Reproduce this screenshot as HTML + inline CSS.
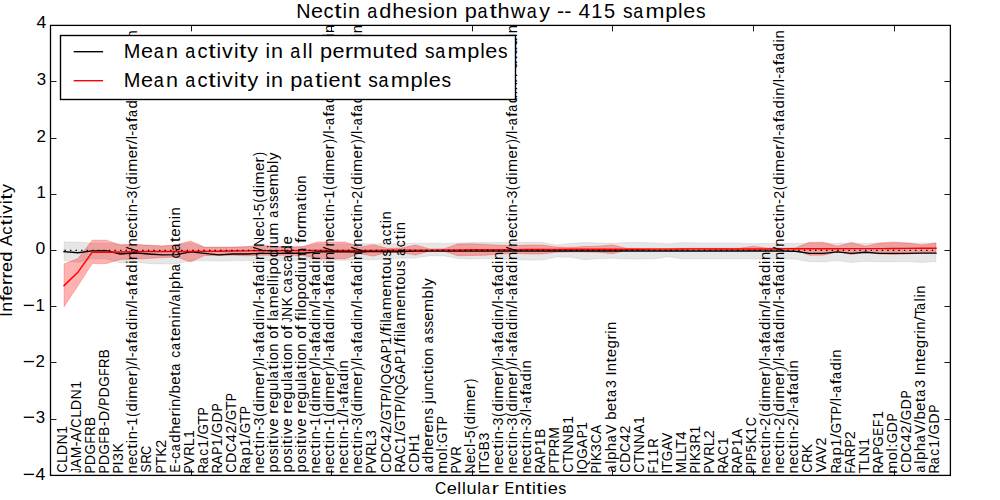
<!DOCTYPE html>
<html><head><meta charset="utf-8"><title>Nectin adhesion pathway</title><style>
html,body{margin:0;padding:0;background:#fff;width:1000px;height:500px;overflow:hidden}
svg{display:block}
text{font-family:"Liberation Sans",sans-serif;fill:#000}
</style></head><body>
<svg width="1000" height="500" viewBox="0 0 1000 500">
<defs><clipPath id="ax"><rect x="50" y="25" width="900" height="450"/></clipPath></defs>
<rect x="0" y="0" width="1000" height="500" fill="#fff"/>
<g clip-path="url(#ax)">
<polygon points="64.06,242 78.12,242 92.19,243.2 106.25,243.2 120.31,244 134.38,244.5 148.44,245 162.5,246 176.56,245 190.62,243 204.69,247.5 218.75,247.5 232.81,247.5 246.88,247 260.94,244.2 275,246.5 289.06,247 303.12,246.5 317.19,244 331.25,244 345.31,244 359.38,243.8 373.44,243.8 387.5,244 401.56,243.8 415.62,243.2 429.69,243.2 443.75,243.4 457.81,242.9 471.88,242.6 485.94,242.6 500,242.6 514.06,242.5 528.12,242.3 542.19,242.3 556.25,245 570.31,243.5 584.38,242.6 598.44,242.9 612.5,243.2 626.56,242.6 640.62,242.6 654.69,242.9 668.75,243.8 682.81,242.6 696.88,242.9 710.94,242.9 725,242.9 739.06,242.9 753.12,243.8 767.19,243.4 781.25,243.4 795.31,243.4 809.38,243.2 823.44,243.2 837.5,243.2 851.56,243.2 865.62,243.2 879.69,243.2 893.75,243.2 907.81,243 921.88,242.9 935.94,243 935.94,261.5 921.88,262.4 907.81,261.5 893.75,261.8 879.69,261.8 865.62,261.2 851.56,262.4 837.5,260.6 823.44,261.8 809.38,261.8 795.31,259.1 781.25,259.1 767.19,259.1 753.12,259.1 739.06,258.8 725,258.8 710.94,258.8 696.88,258.8 682.81,259.1 668.75,256.7 654.69,258.8 640.62,259.1 626.56,259.1 612.5,258.2 598.44,258.8 584.38,259.7 570.31,257.3 556.25,257 542.19,260 528.12,260 514.06,259.7 500,259 485.94,258.5 471.88,259.1 457.81,258.5 443.75,255.8 429.69,255.8 415.62,258 401.56,258.3 387.5,258.8 373.44,259.7 359.38,259.8 345.31,260.3 331.25,260.3 317.19,260.3 303.12,260.3 289.06,260.6 275,260.6 260.94,260.6 246.88,260.6 232.81,260.6 218.75,261 204.69,260.6 190.62,261 176.56,263.5 162.5,264 148.44,263.5 134.38,262 120.31,263 106.25,258.8 92.19,258.8 78.12,262.4 64.06,260.6" fill="#808080" fill-opacity="0.2" stroke="#808080" stroke-opacity="0.2" stroke-width="0.8"/>
<polygon points="64.06,263.9 78.12,258.5 92.19,240.2 106.25,240.2 120.31,245 134.38,244.5 148.44,245.3 162.5,245.9 176.56,244.7 190.62,241.1 204.69,247.1 218.75,247.1 232.81,247.1 246.88,246.6 260.94,245.9 275,246.5 289.06,247.1 303.12,246.5 317.19,242 331.25,242 345.31,242 359.38,247.2 373.44,244.7 387.5,248.3 401.56,248 415.62,245 429.69,248.9 443.75,248.9 457.81,244.1 471.88,243.8 485.94,244.4 500,245.3 514.06,245.6 528.12,245 542.19,245 556.25,247.1 570.31,247.4 584.38,246.5 598.44,246.2 612.5,244.9 626.56,248.3 640.62,248.5 654.69,248.5 668.75,248.5 682.81,248.4 696.88,248.3 710.94,248.3 725,248.3 739.06,248.3 753.12,246.2 767.19,248 781.25,248.1 795.31,248 809.38,242.3 823.44,242.3 837.5,246.2 851.56,242.4 865.62,246.2 879.69,242.9 893.75,242 907.81,242.9 921.88,245 935.94,242.9 935.94,252.8 921.88,252.8 907.81,254 893.75,254.6 879.69,254 865.62,252.2 851.56,254.6 837.5,251.9 823.44,255.2 809.38,255.2 795.31,249.8 781.25,249.6 767.19,249.7 753.12,250.5 739.06,249.6 725,249.6 710.94,249.6 696.88,249.6 682.81,249.8 668.75,249.9 654.69,249.9 640.62,250 626.56,250.2 612.5,253.7 598.44,252.2 584.38,251.9 570.31,251.9 556.25,252.2 542.19,254 528.12,254 514.06,253.4 500,254 485.94,255.2 471.88,255.5 457.81,255.8 443.75,251 429.69,251 415.62,255 401.56,252.8 387.5,252.2 373.44,256.1 359.38,253.6 345.31,258.8 331.25,258.8 317.19,258.8 303.12,255.5 289.06,255.2 275,255.2 260.94,255.2 246.88,255.8 232.81,255.2 218.75,255.5 204.69,255.5 190.62,261.8 176.56,257 162.5,257.6 148.44,258.5 134.38,259.1 120.31,259.4 106.25,263.6 92.19,263.6 78.12,285.5 64.06,306.8" fill="#ff0000" fill-opacity="0.3" stroke="#ff0000" stroke-opacity="0.3" stroke-width="0.8"/>
<polyline points="64.06,251.6 78.12,252.8 92.19,250.9 106.25,250.6 120.31,254 134.38,252.8 148.44,254 162.5,254.9 176.56,254.6 190.62,251.9 204.69,253.4 218.75,254.9 232.81,254 246.88,254 260.94,253.4 275,253.4 289.06,253.3 303.12,253.2 317.19,251.9 331.25,251.6 345.31,251.8 359.38,252 373.44,251.3 387.5,251.9 401.56,251.6 415.62,251 429.69,251 443.75,251 457.81,251 471.88,251 485.94,251 500,251 514.06,251 528.12,251 542.19,251 556.25,251 570.31,251 584.38,251 598.44,251 612.5,251 626.56,251 640.62,251 654.69,251 668.75,251 682.81,251 696.88,251 710.94,251 725,251 739.06,251 753.12,251 767.19,251 781.25,251 795.31,251.3 809.38,253.4 823.44,253.4 837.5,251.9 851.56,253.4 865.62,252.2 879.69,253.4 893.75,253.4 907.81,253.4 921.88,253.1 935.94,253.1" fill="none" stroke="#000" stroke-width="1.39" stroke-linejoin="round" stroke-linecap="square"/>
<polyline points="64.06,285.6 78.12,271.9 92.19,252.2 106.25,252.2 120.31,252 134.38,251.7 148.44,251.5 162.5,251.5 176.56,251.5 190.62,251.5 204.69,251.4 218.75,251.2 232.81,251 246.88,250.9 260.94,250.8 275,250.7 289.06,250.6 303.12,250.5 317.19,250.4 331.25,250.4 345.31,250.4 359.38,250.4 373.44,250.4 387.5,250.3 401.56,250.2 415.62,250.1 429.69,250.1 443.75,250 457.81,250 471.88,249.8 485.94,249.7 500,249.7 514.06,249.6 528.12,249.5 542.19,249.5 556.25,249.4 570.31,249.3 584.38,249.2 598.44,249.2 612.5,249.2 626.56,249.2 640.62,249.2 654.69,249.1 668.75,249.1 682.81,249 696.88,248.9 710.94,248.9 725,248.9 739.06,248.9 753.12,248.9 767.19,248.9 781.25,248.8 795.31,248.8 809.38,248.7 823.44,248.7 837.5,248.7 851.56,248.6 865.62,248.6 879.69,248.6 893.75,248.5 907.81,248.4 921.88,248.3 935.94,248.3" fill="none" stroke="#ff0000" stroke-width="1.45" stroke-linejoin="round" stroke-linecap="square"/>
<line x1="64.06" y1="250.45" x2="935.94" y2="250.45" stroke="#000" stroke-width="1.3" stroke-dasharray="1.39 4.17" stroke-dashoffset="-0.35"/>
<g transform="translate(67.06,472.06) rotate(-90)" font-size="14.4"><text transform="matrix(0.895 0 0 1 -0.65 0)">C</text><text transform="matrix(0.992 0 0 1 9.16 0)">L</text><text transform="matrix(0.998 0 0 1 16.9 0)">D</text><text transform="matrix(0.953 0 0 1 27.71 0)">N</text><text transform="matrix(0.971 0 0 1 38.31 0)">1</text></g>
<g transform="translate(81.12,472.53) rotate(-90)" font-size="14.4"><text transform="matrix(0.600 0 0 1 -0.18 0)">J</text><text transform="matrix(0.972 0 0 1 4.55 0)">A</text><text transform="matrix(0.962 0 0 1 14.2 0)">M</text><text transform="matrix(1.040 0 0 1 25.98 0)">-</text><text transform="matrix(0.972 0 0 1 30.68 0)">A</text><text transform="matrix(1.170 0 0 1 40.09 0)">/</text><text transform="matrix(0.895 0 0 1 44.84 0)">C</text><text transform="matrix(0.992 0 0 1 54.66 0)">L</text><text transform="matrix(0.998 0 0 1 62.4 0)">D</text><text transform="matrix(0.953 0 0 1 73.21 0)">N</text><text transform="matrix(0.971 0 0 1 83.8 0)">1</text></g>
<g transform="translate(95.19,472.47) rotate(-90)" font-size="14.4"><text transform="matrix(0.853 0 0 1 -1.01 0)">P</text><text transform="matrix(0.998 0 0 1 7.2 0)">D</text><text transform="matrix(0.941 0 0 1 17.86 0)">G</text><text transform="matrix(0.827 0 0 1 28.9 0)">F</text><text transform="matrix(0.922 0 0 1 36.79 0)">R</text><text transform="matrix(0.937 0 0 1 46.39 0)">B</text></g>
<g transform="translate(109.25,472.47) rotate(-90)" font-size="14.4"><text transform="matrix(0.853 0 0 1 -1.01 0)">P</text><text transform="matrix(0.998 0 0 1 7.2 0)">D</text><text transform="matrix(0.941 0 0 1 17.86 0)">G</text><text transform="matrix(0.827 0 0 1 28.9 0)">F</text><text transform="matrix(0.937 0 0 1 36.77 0)">B</text><text transform="matrix(1.040 0 0 1 46.15 0)">-</text><text transform="matrix(0.998 0 0 1 51.2 0)">D</text><text transform="matrix(1.170 0 0 1 61.76 0)">/</text><text transform="matrix(0.853 0 0 1 66.74 0)">P</text><text transform="matrix(0.998 0 0 1 74.95 0)">D</text><text transform="matrix(0.941 0 0 1 85.61 0)">G</text><text transform="matrix(0.827 0 0 1 96.65 0)">F</text><text transform="matrix(0.922 0 0 1 104.54 0)">R</text><text transform="matrix(0.937 0 0 1 114.14 0)">B</text></g>
<g transform="translate(123.31,472.47) rotate(-90)" font-size="14.4"><text transform="matrix(0.853 0 0 1 -1.01 0)">P</text><text transform="matrix(1.020 0 0 1 7.02 0)">I</text><text transform="matrix(0.976 0 0 1 11.53 0)">3</text><text transform="matrix(0.973 0 0 1 19.98 0)">K</text></g>
<g transform="translate(137.38,472.6) rotate(-90)" font-size="14.4"><text transform="matrix(1.040 0 0 1 -0.99 0)">n</text><text transform="matrix(1.042 0 0 1 7.62 0)">e</text><text transform="matrix(0.968 0 0 1 16.16 0)">c</text><text transform="matrix(1.289 0 0 1 23.71 0)">t</text><text transform="matrix(0.986 0 0 1 29.47 0)">i</text><text transform="matrix(1.040 0 0 1 33.26 0)">n</text><text transform="matrix(1.040 0 0 1 41.75 0)">-</text><text transform="matrix(0.971 0 0 1 47.07 0)">1</text><text transform="matrix(0.815 0 0 1 55.95 0)">(</text><text transform="matrix(1.048 0 0 1 61.12 0)">d</text><text transform="matrix(0.986 0 0 1 70.22 0)">i</text><text transform="matrix(1.099 0 0 1 73.95 0)">m</text><text transform="matrix(1.042 0 0 1 87.37 0)">e</text><text transform="matrix(1.236 0 0 1 95.82 0)">r</text><text transform="matrix(0.815 0 0 1 102.53 0)">)</text><text transform="matrix(1.170 0 0 1 106.86 0)">/</text><text transform="matrix(0.986 0 0 1 111.84 0)">l</text><text transform="matrix(1.040 0 0 1 115.38 0)">-</text><text transform="matrix(0.867 0 0 1 120.54 0)">a</text><text transform="matrix(1.266 0 0 1 128.92 0)">f</text><text transform="matrix(0.867 0 0 1 134.17 0)">a</text><text transform="matrix(1.048 0 0 1 142.62 0)">d</text><text transform="matrix(0.986 0 0 1 151.72 0)">i</text><text transform="matrix(1.040 0 0 1 155.51 0)">n</text><text transform="matrix(1.170 0 0 1 163.99 0)">/</text><text transform="matrix(0.986 0 0 1 168.97 0)">l</text><text transform="matrix(1.040 0 0 1 172.5 0)">-</text><text transform="matrix(0.867 0 0 1 177.67 0)">a</text><text transform="matrix(1.266 0 0 1 186.05 0)">f</text><text transform="matrix(0.867 0 0 1 191.29 0)">a</text><text transform="matrix(1.048 0 0 1 199.75 0)">d</text><text transform="matrix(0.986 0 0 1 208.85 0)">i</text><text transform="matrix(1.040 0 0 1 212.63 0)">n</text><text transform="matrix(1.170 0 0 1 221.11 0)">/</text><text transform="matrix(1.040 0 0 1 226.01 0)">n</text><text transform="matrix(1.042 0 0 1 234.62 0)">e</text><text transform="matrix(0.968 0 0 1 243.16 0)">c</text><text transform="matrix(1.289 0 0 1 250.71 0)">t</text><text transform="matrix(0.986 0 0 1 256.47 0)">i</text><text transform="matrix(1.040 0 0 1 260.26 0)">n</text><text transform="matrix(1.040 0 0 1 268.75 0)">-</text><text transform="matrix(0.976 0 0 1 274.14 0)">3</text><text transform="matrix(0.815 0 0 1 282.83 0)">(</text><text transform="matrix(1.048 0 0 1 288 0)">d</text><text transform="matrix(0.986 0 0 1 297.1 0)">i</text><text transform="matrix(1.099 0 0 1 300.82 0)">m</text><text transform="matrix(1.042 0 0 1 314.24 0)">e</text><text transform="matrix(1.236 0 0 1 322.69 0)">r</text><text transform="matrix(1.170 0 0 1 328.36 0)">/</text><text transform="matrix(0.986 0 0 1 333.34 0)">l</text><text transform="matrix(1.040 0 0 1 336.88 0)">-</text><text transform="matrix(0.867 0 0 1 342.04 0)">a</text><text transform="matrix(1.266 0 0 1 350.42 0)">f</text><text transform="matrix(0.867 0 0 1 355.67 0)">a</text><text transform="matrix(1.048 0 0 1 364.12 0)">d</text><text transform="matrix(0.986 0 0 1 373.22 0)">i</text><text transform="matrix(1.040 0 0 1 377.01 0)">n</text><text transform="matrix(1.170 0 0 1 385.49 0)">/</text><text transform="matrix(0.986 0 0 1 390.47 0)">l</text><text transform="matrix(1.040 0 0 1 394 0)">-</text><text transform="matrix(0.867 0 0 1 399.17 0)">a</text><text transform="matrix(1.266 0 0 1 407.55 0)">f</text><text transform="matrix(0.867 0 0 1 412.79 0)">a</text><text transform="matrix(1.048 0 0 1 421.25 0)">d</text><text transform="matrix(0.986 0 0 1 430.35 0)">i</text><text transform="matrix(1.040 0 0 1 434.13 0)">n</text></g>
<g transform="translate(151.44,471.92) rotate(-90)" font-size="14.4"><text transform="matrix(0.860 0 0 1 -0.56 0)">S</text><text transform="matrix(0.922 0 0 1 8.11 0)">R</text><text transform="matrix(0.895 0 0 1 16.83 0)">C</text></g>
<g transform="translate(165.5,472.47) rotate(-90)" font-size="14.4"><text transform="matrix(0.853 0 0 1 -1.01 0)">P</text><text transform="matrix(1.052 0 0 1 6.63 0)">T</text><text transform="matrix(0.973 0 0 1 15.73 0)">K</text><text transform="matrix(0.980 0 0 1 24.82 0)">2</text></g>
<g transform="translate(179.56,471.47) rotate(-90)" font-size="14.4"><text transform="matrix(0.836 0 0 1 -0.99 0)">E</text><text transform="matrix(1.040 0 0 1 7.4 0)">-</text><text transform="matrix(0.968 0 0 1 12.44 0)">c</text><text transform="matrix(0.867 0 0 1 20.19 0)">a</text><text transform="matrix(1.048 0 0 1 28.64 0)">d</text><text transform="matrix(1.047 0 0 1 37.6 0)">h</text><text transform="matrix(1.042 0 0 1 46.27 0)">e</text><text transform="matrix(1.236 0 0 1 54.72 0)">r</text><text transform="matrix(0.986 0 0 1 60.75 0)">i</text><text transform="matrix(1.040 0 0 1 64.53 0)">n</text><text transform="matrix(1.170 0 0 1 73.01 0)">/</text><text transform="matrix(1.049 0 0 1 77.92 0)">b</text><text transform="matrix(1.042 0 0 1 86.64 0)">e</text><text transform="matrix(1.289 0 0 1 95.1 0)">t</text><text transform="matrix(0.867 0 0 1 100.82 0)">a</text><text transform="matrix(0.968 0 0 1 113.69 0)">c</text><text transform="matrix(0.867 0 0 1 121.44 0)">a</text><text transform="matrix(1.289 0 0 1 129.85 0)">t</text><text transform="matrix(1.042 0 0 1 135.39 0)">e</text><text transform="matrix(1.040 0 0 1 144.03 0)">n</text><text transform="matrix(0.986 0 0 1 152.87 0)">i</text><text transform="matrix(1.040 0 0 1 156.65 0)">n</text><text transform="matrix(1.170 0 0 1 165.14 0)">/</text><text transform="matrix(0.867 0 0 1 170.07 0)">a</text><text transform="matrix(0.986 0 0 1 178.74 0)">l</text><text transform="matrix(1.049 0 0 1 182.55 0)">p</text><text transform="matrix(1.047 0 0 1 191.35 0)">h</text><text transform="matrix(0.867 0 0 1 200.19 0)">a</text><text transform="matrix(0.968 0 0 1 213.06 0)">c</text><text transform="matrix(0.867 0 0 1 220.82 0)">a</text><text transform="matrix(1.289 0 0 1 229.23 0)">t</text><text transform="matrix(1.042 0 0 1 234.77 0)">e</text><text transform="matrix(1.040 0 0 1 243.4 0)">n</text><text transform="matrix(0.986 0 0 1 252.25 0)">i</text><text transform="matrix(1.040 0 0 1 256.03 0)">n</text></g>
<g transform="translate(193.62,472.47) rotate(-90)" font-size="14.4"><text transform="matrix(0.853 0 0 1 -1.01 0)">P</text><text transform="matrix(0.979 0 0 1 7.06 0)">V</text><text transform="matrix(0.922 0 0 1 16.79 0)">R</text><text transform="matrix(0.992 0 0 1 26.33 0)">L</text><text transform="matrix(0.971 0 0 1 34.35 0)">1</text></g>
<g transform="translate(207.69,472.47) rotate(-90)" font-size="14.4"><text transform="matrix(0.922 0 0 1 -1.09 0)">R</text><text transform="matrix(0.867 0 0 1 8.32 0)">a</text><text transform="matrix(0.968 0 0 1 16.81 0)">c</text><text transform="matrix(0.971 0 0 1 24.72 0)">1</text><text transform="matrix(1.170 0 0 1 33.14 0)">/</text><text transform="matrix(0.941 0 0 1 37.86 0)">G</text><text transform="matrix(1.052 0 0 1 47.63 0)">T</text><text transform="matrix(0.853 0 0 1 56.87 0)">P</text></g>
<g transform="translate(221.75,472.47) rotate(-90)" font-size="14.4"><text transform="matrix(0.922 0 0 1 -1.09 0)">R</text><text transform="matrix(0.972 0 0 1 7.84 0)">A</text><text transform="matrix(0.853 0 0 1 17.62 0)">P</text><text transform="matrix(0.971 0 0 1 26.1 0)">1</text><text transform="matrix(1.170 0 0 1 34.51 0)">/</text><text transform="matrix(0.941 0 0 1 39.24 0)">G</text><text transform="matrix(0.998 0 0 1 50.07 0)">D</text><text transform="matrix(0.853 0 0 1 60.99 0)">P</text></g>
<g transform="translate(235.81,472.06) rotate(-90)" font-size="14.4"><text transform="matrix(0.895 0 0 1 -0.65 0)">C</text><text transform="matrix(0.998 0 0 1 9.15 0)">D</text><text transform="matrix(0.895 0 0 1 19.85 0)">C</text><text transform="matrix(1.017 0 0 1 29.81 0)">4</text><text transform="matrix(0.980 0 0 1 38.53 0)">2</text><text transform="matrix(1.170 0 0 1 46.97 0)">/</text><text transform="matrix(0.941 0 0 1 51.69 0)">G</text><text transform="matrix(1.052 0 0 1 61.46 0)">T</text><text transform="matrix(0.853 0 0 1 70.7 0)">P</text></g>
<g transform="translate(249.88,472.47) rotate(-90)" font-size="14.4"><text transform="matrix(0.922 0 0 1 -1.09 0)">R</text><text transform="matrix(0.867 0 0 1 8.32 0)">a</text><text transform="matrix(1.049 0 0 1 16.92 0)">p</text><text transform="matrix(0.971 0 0 1 25.97 0)">1</text><text transform="matrix(1.170 0 0 1 34.39 0)">/</text><text transform="matrix(0.941 0 0 1 39.11 0)">G</text><text transform="matrix(1.052 0 0 1 48.88 0)">T</text><text transform="matrix(0.853 0 0 1 58.12 0)">P</text></g>
<g transform="translate(263.94,472.6) rotate(-90)" font-size="14.4"><text transform="matrix(1.040 0 0 1 -0.99 0)">n</text><text transform="matrix(1.042 0 0 1 7.62 0)">e</text><text transform="matrix(0.968 0 0 1 16.16 0)">c</text><text transform="matrix(1.289 0 0 1 23.71 0)">t</text><text transform="matrix(0.986 0 0 1 29.47 0)">i</text><text transform="matrix(1.040 0 0 1 33.26 0)">n</text><text transform="matrix(1.040 0 0 1 41.75 0)">-</text><text transform="matrix(0.976 0 0 1 47.14 0)">3</text><text transform="matrix(0.815 0 0 1 55.83 0)">(</text><text transform="matrix(1.048 0 0 1 61 0)">d</text><text transform="matrix(0.986 0 0 1 70.1 0)">i</text><text transform="matrix(1.099 0 0 1 73.82 0)">m</text><text transform="matrix(1.042 0 0 1 87.24 0)">e</text><text transform="matrix(1.236 0 0 1 95.69 0)">r</text><text transform="matrix(0.815 0 0 1 102.41 0)">)</text><text transform="matrix(1.170 0 0 1 106.74 0)">/</text><text transform="matrix(0.986 0 0 1 111.72 0)">l</text><text transform="matrix(1.040 0 0 1 115.25 0)">-</text><text transform="matrix(0.867 0 0 1 120.42 0)">a</text><text transform="matrix(1.266 0 0 1 128.8 0)">f</text><text transform="matrix(0.867 0 0 1 134.04 0)">a</text><text transform="matrix(1.048 0 0 1 142.5 0)">d</text><text transform="matrix(0.986 0 0 1 151.6 0)">i</text><text transform="matrix(1.040 0 0 1 155.38 0)">n</text><text transform="matrix(1.170 0 0 1 163.86 0)">/</text><text transform="matrix(0.986 0 0 1 168.84 0)">l</text><text transform="matrix(1.040 0 0 1 172.38 0)">-</text><text transform="matrix(0.867 0 0 1 177.54 0)">a</text><text transform="matrix(1.266 0 0 1 185.92 0)">f</text><text transform="matrix(0.867 0 0 1 191.17 0)">a</text><text transform="matrix(1.048 0 0 1 199.62 0)">d</text><text transform="matrix(0.986 0 0 1 208.72 0)">i</text><text transform="matrix(1.040 0 0 1 212.51 0)">n</text><text transform="matrix(1.170 0 0 1 220.99 0)">/</text><text transform="matrix(0.953 0 0 1 225.85 0)">N</text><text transform="matrix(1.042 0 0 1 236.12 0)">e</text><text transform="matrix(0.968 0 0 1 244.66 0)">c</text><text transform="matrix(0.986 0 0 1 252.47 0)">l</text><text transform="matrix(1.040 0 0 1 256 0)">-</text><text transform="matrix(0.960 0 0 1 261.38 0)">5</text><text transform="matrix(0.815 0 0 1 270.08 0)">(</text><text transform="matrix(1.048 0 0 1 275.25 0)">d</text><text transform="matrix(0.986 0 0 1 284.35 0)">i</text><text transform="matrix(1.099 0 0 1 288.07 0)">m</text><text transform="matrix(1.042 0 0 1 301.49 0)">e</text><text transform="matrix(1.236 0 0 1 309.94 0)">r</text><text transform="matrix(0.815 0 0 1 316.66 0)">)</text></g>
<g transform="translate(278,471.6) rotate(-90)" font-size="14.4"><text transform="matrix(1.049 0 0 1 -0.97 0)">p</text><text transform="matrix(1.025 0 0 1 7.76 0)">o</text><text transform="matrix(0.925 0 0 1 16.5 0)">s</text><text transform="matrix(0.986 0 0 1 23.6 0)">i</text><text transform="matrix(1.289 0 0 1 27.21 0)">t</text><text transform="matrix(0.986 0 0 1 32.97 0)">i</text><text transform="matrix(1.041 0 0 1 36.85 0)">v</text><text transform="matrix(1.042 0 0 1 44.87 0)">e</text><text transform="matrix(1.236 0 0 1 57.69 0)">r</text><text transform="matrix(1.042 0 0 1 63.24 0)">e</text><text transform="matrix(1.048 0 0 1 71.75 0)">g</text><text transform="matrix(1.040 0 0 1 80.7 0)">u</text><text transform="matrix(0.986 0 0 1 89.59 0)">l</text><text transform="matrix(0.867 0 0 1 93.42 0)">a</text><text transform="matrix(1.289 0 0 1 101.83 0)">t</text><text transform="matrix(0.986 0 0 1 107.6 0)">i</text><text transform="matrix(1.025 0 0 1 111.26 0)">o</text><text transform="matrix(1.040 0 0 1 119.88 0)">n</text><text transform="matrix(1.025 0 0 1 132.88 0)">o</text><text transform="matrix(1.266 0 0 1 141.3 0)">f</text><text transform="matrix(0.986 0 0 1 150.97 0)">l</text><text transform="matrix(0.867 0 0 1 154.79 0)">a</text><text transform="matrix(1.099 0 0 1 163.32 0)">m</text><text transform="matrix(1.042 0 0 1 176.74 0)">e</text><text transform="matrix(0.986 0 0 1 185.47 0)">l</text><text transform="matrix(0.986 0 0 1 189.34 0)">l</text><text transform="matrix(0.986 0 0 1 193.22 0)">i</text><text transform="matrix(1.049 0 0 1 197.03 0)">p</text><text transform="matrix(1.025 0 0 1 205.76 0)">o</text><text transform="matrix(1.048 0 0 1 214.25 0)">d</text><text transform="matrix(0.986 0 0 1 223.35 0)">i</text><text transform="matrix(1.040 0 0 1 227.07 0)">u</text><text transform="matrix(1.099 0 0 1 235.82 0)">m</text><text transform="matrix(0.867 0 0 1 253.79 0)">a</text><text transform="matrix(0.925 0 0 1 262.5 0)">s</text><text transform="matrix(0.925 0 0 1 269.62 0)">s</text><text transform="matrix(1.042 0 0 1 276.49 0)">e</text><text transform="matrix(1.099 0 0 1 285.07 0)">m</text><text transform="matrix(1.049 0 0 1 298.65 0)">b</text><text transform="matrix(0.986 0 0 1 307.59 0)">l</text><text transform="matrix(1.036 0 0 1 311.49 0)">y</text></g>
<g transform="translate(292.06,471.6) rotate(-90)" font-size="14.4"><text transform="matrix(1.049 0 0 1 -0.97 0)">p</text><text transform="matrix(1.025 0 0 1 7.76 0)">o</text><text transform="matrix(0.925 0 0 1 16.5 0)">s</text><text transform="matrix(0.986 0 0 1 23.6 0)">i</text><text transform="matrix(1.289 0 0 1 27.21 0)">t</text><text transform="matrix(0.986 0 0 1 32.97 0)">i</text><text transform="matrix(1.041 0 0 1 36.85 0)">v</text><text transform="matrix(1.042 0 0 1 44.87 0)">e</text><text transform="matrix(1.236 0 0 1 57.69 0)">r</text><text transform="matrix(1.042 0 0 1 63.24 0)">e</text><text transform="matrix(1.048 0 0 1 71.75 0)">g</text><text transform="matrix(1.040 0 0 1 80.7 0)">u</text><text transform="matrix(0.986 0 0 1 89.59 0)">l</text><text transform="matrix(0.867 0 0 1 93.42 0)">a</text><text transform="matrix(1.289 0 0 1 101.83 0)">t</text><text transform="matrix(0.986 0 0 1 107.6 0)">i</text><text transform="matrix(1.025 0 0 1 111.26 0)">o</text><text transform="matrix(1.040 0 0 1 119.88 0)">n</text><text transform="matrix(1.025 0 0 1 132.88 0)">o</text><text transform="matrix(1.266 0 0 1 141.3 0)">f</text><text transform="matrix(0.600 0 0 1 149.71 0)">J</text><text transform="matrix(0.953 0 0 1 154.85 0)">N</text><text transform="matrix(0.973 0 0 1 165.2 0)">K</text><text transform="matrix(0.968 0 0 1 178.54 0)">c</text><text transform="matrix(0.867 0 0 1 186.29 0)">a</text><text transform="matrix(0.925 0 0 1 195 0)">s</text><text transform="matrix(0.968 0 0 1 201.91 0)">c</text><text transform="matrix(0.867 0 0 1 209.67 0)">a</text><text transform="matrix(1.048 0 0 1 218.12 0)">d</text><text transform="matrix(1.042 0 0 1 226.99 0)">e</text></g>
<g transform="translate(306.12,471.6) rotate(-90)" font-size="14.4"><text transform="matrix(1.049 0 0 1 -0.97 0)">p</text><text transform="matrix(1.025 0 0 1 7.76 0)">o</text><text transform="matrix(0.925 0 0 1 16.5 0)">s</text><text transform="matrix(0.986 0 0 1 23.6 0)">i</text><text transform="matrix(1.289 0 0 1 27.21 0)">t</text><text transform="matrix(0.986 0 0 1 32.97 0)">i</text><text transform="matrix(1.041 0 0 1 36.85 0)">v</text><text transform="matrix(1.042 0 0 1 44.87 0)">e</text><text transform="matrix(1.236 0 0 1 57.69 0)">r</text><text transform="matrix(1.042 0 0 1 63.24 0)">e</text><text transform="matrix(1.048 0 0 1 71.75 0)">g</text><text transform="matrix(1.040 0 0 1 80.7 0)">u</text><text transform="matrix(0.986 0 0 1 89.59 0)">l</text><text transform="matrix(0.867 0 0 1 93.42 0)">a</text><text transform="matrix(1.289 0 0 1 101.83 0)">t</text><text transform="matrix(0.986 0 0 1 107.6 0)">i</text><text transform="matrix(1.025 0 0 1 111.26 0)">o</text><text transform="matrix(1.040 0 0 1 119.88 0)">n</text><text transform="matrix(1.025 0 0 1 132.88 0)">o</text><text transform="matrix(1.266 0 0 1 141.3 0)">f</text><text transform="matrix(1.266 0 0 1 150.67 0)">f</text><text transform="matrix(0.986 0 0 1 155.97 0)">i</text><text transform="matrix(0.986 0 0 1 159.84 0)">l</text><text transform="matrix(1.025 0 0 1 163.51 0)">o</text><text transform="matrix(1.049 0 0 1 172.15 0)">p</text><text transform="matrix(1.025 0 0 1 180.88 0)">o</text><text transform="matrix(1.048 0 0 1 189.37 0)">d</text><text transform="matrix(0.986 0 0 1 198.47 0)">i</text><text transform="matrix(1.040 0 0 1 202.2 0)">u</text><text transform="matrix(1.099 0 0 1 210.95 0)">m</text><text transform="matrix(1.266 0 0 1 228.67 0)">f</text><text transform="matrix(1.025 0 0 1 233.76 0)">o</text><text transform="matrix(1.236 0 0 1 242.19 0)">r</text><text transform="matrix(1.099 0 0 1 247.82 0)">m</text><text transform="matrix(0.867 0 0 1 261.42 0)">a</text><text transform="matrix(1.289 0 0 1 269.83 0)">t</text><text transform="matrix(0.986 0 0 1 275.6 0)">i</text><text transform="matrix(1.025 0 0 1 279.26 0)">o</text><text transform="matrix(1.040 0 0 1 287.88 0)">n</text></g>
<g transform="translate(320.19,472.6) rotate(-90)" font-size="14.4"><text transform="matrix(1.040 0 0 1 -0.99 0)">n</text><text transform="matrix(1.042 0 0 1 7.62 0)">e</text><text transform="matrix(0.968 0 0 1 16.16 0)">c</text><text transform="matrix(1.289 0 0 1 23.71 0)">t</text><text transform="matrix(0.986 0 0 1 29.47 0)">i</text><text transform="matrix(1.040 0 0 1 33.26 0)">n</text><text transform="matrix(1.040 0 0 1 41.75 0)">-</text><text transform="matrix(0.971 0 0 1 47.07 0)">1</text><text transform="matrix(0.815 0 0 1 55.95 0)">(</text><text transform="matrix(1.048 0 0 1 61.12 0)">d</text><text transform="matrix(0.986 0 0 1 70.22 0)">i</text><text transform="matrix(1.099 0 0 1 73.95 0)">m</text><text transform="matrix(1.042 0 0 1 87.37 0)">e</text><text transform="matrix(1.236 0 0 1 95.82 0)">r</text><text transform="matrix(0.815 0 0 1 102.53 0)">)</text><text transform="matrix(1.170 0 0 1 106.86 0)">/</text><text transform="matrix(0.986 0 0 1 111.84 0)">l</text><text transform="matrix(1.040 0 0 1 115.38 0)">-</text><text transform="matrix(0.867 0 0 1 120.54 0)">a</text><text transform="matrix(1.266 0 0 1 128.92 0)">f</text><text transform="matrix(0.867 0 0 1 134.17 0)">a</text><text transform="matrix(1.048 0 0 1 142.62 0)">d</text><text transform="matrix(0.986 0 0 1 151.72 0)">i</text><text transform="matrix(1.040 0 0 1 155.51 0)">n</text><text transform="matrix(1.170 0 0 1 163.99 0)">/</text><text transform="matrix(0.986 0 0 1 168.97 0)">l</text><text transform="matrix(1.040 0 0 1 172.5 0)">-</text><text transform="matrix(0.867 0 0 1 177.67 0)">a</text><text transform="matrix(1.266 0 0 1 186.05 0)">f</text><text transform="matrix(0.867 0 0 1 191.29 0)">a</text><text transform="matrix(1.048 0 0 1 199.75 0)">d</text><text transform="matrix(0.986 0 0 1 208.85 0)">i</text><text transform="matrix(1.040 0 0 1 212.63 0)">n</text></g>
<g transform="translate(334.25,472.6) rotate(-90)" font-size="14.4"><text transform="matrix(1.040 0 0 1 -0.99 0)">n</text><text transform="matrix(1.042 0 0 1 7.62 0)">e</text><text transform="matrix(0.968 0 0 1 16.16 0)">c</text><text transform="matrix(1.289 0 0 1 23.71 0)">t</text><text transform="matrix(0.986 0 0 1 29.47 0)">i</text><text transform="matrix(1.040 0 0 1 33.26 0)">n</text><text transform="matrix(1.040 0 0 1 41.75 0)">-</text><text transform="matrix(0.971 0 0 1 47.07 0)">1</text><text transform="matrix(0.815 0 0 1 55.95 0)">(</text><text transform="matrix(1.048 0 0 1 61.12 0)">d</text><text transform="matrix(0.986 0 0 1 70.22 0)">i</text><text transform="matrix(1.099 0 0 1 73.95 0)">m</text><text transform="matrix(1.042 0 0 1 87.37 0)">e</text><text transform="matrix(1.236 0 0 1 95.82 0)">r</text><text transform="matrix(0.815 0 0 1 102.53 0)">)</text><text transform="matrix(1.170 0 0 1 106.86 0)">/</text><text transform="matrix(0.986 0 0 1 111.84 0)">l</text><text transform="matrix(1.040 0 0 1 115.38 0)">-</text><text transform="matrix(0.867 0 0 1 120.54 0)">a</text><text transform="matrix(1.266 0 0 1 128.92 0)">f</text><text transform="matrix(0.867 0 0 1 134.17 0)">a</text><text transform="matrix(1.048 0 0 1 142.62 0)">d</text><text transform="matrix(0.986 0 0 1 151.72 0)">i</text><text transform="matrix(1.040 0 0 1 155.51 0)">n</text><text transform="matrix(1.170 0 0 1 163.99 0)">/</text><text transform="matrix(0.986 0 0 1 168.97 0)">l</text><text transform="matrix(1.040 0 0 1 172.5 0)">-</text><text transform="matrix(0.867 0 0 1 177.67 0)">a</text><text transform="matrix(1.266 0 0 1 186.05 0)">f</text><text transform="matrix(0.867 0 0 1 191.29 0)">a</text><text transform="matrix(1.048 0 0 1 199.75 0)">d</text><text transform="matrix(0.986 0 0 1 208.85 0)">i</text><text transform="matrix(1.040 0 0 1 212.63 0)">n</text><text transform="matrix(1.170 0 0 1 221.11 0)">/</text><text transform="matrix(1.040 0 0 1 226.01 0)">n</text><text transform="matrix(1.042 0 0 1 234.62 0)">e</text><text transform="matrix(0.968 0 0 1 243.16 0)">c</text><text transform="matrix(1.289 0 0 1 250.71 0)">t</text><text transform="matrix(0.986 0 0 1 256.47 0)">i</text><text transform="matrix(1.040 0 0 1 260.26 0)">n</text><text transform="matrix(1.040 0 0 1 268.75 0)">-</text><text transform="matrix(0.971 0 0 1 274.07 0)">1</text><text transform="matrix(0.815 0 0 1 282.95 0)">(</text><text transform="matrix(1.048 0 0 1 288.12 0)">d</text><text transform="matrix(0.986 0 0 1 297.22 0)">i</text><text transform="matrix(1.099 0 0 1 300.95 0)">m</text><text transform="matrix(1.042 0 0 1 314.37 0)">e</text><text transform="matrix(1.236 0 0 1 322.82 0)">r</text><text transform="matrix(0.815 0 0 1 329.53 0)">)</text><text transform="matrix(1.170 0 0 1 333.86 0)">/</text><text transform="matrix(0.986 0 0 1 338.84 0)">l</text><text transform="matrix(1.040 0 0 1 342.38 0)">-</text><text transform="matrix(0.867 0 0 1 347.54 0)">a</text><text transform="matrix(1.266 0 0 1 355.92 0)">f</text><text transform="matrix(0.867 0 0 1 361.17 0)">a</text><text transform="matrix(1.048 0 0 1 369.62 0)">d</text><text transform="matrix(0.986 0 0 1 378.72 0)">i</text><text transform="matrix(1.040 0 0 1 382.51 0)">n</text><text transform="matrix(1.170 0 0 1 390.99 0)">/</text><text transform="matrix(0.986 0 0 1 395.97 0)">l</text><text transform="matrix(1.040 0 0 1 399.5 0)">-</text><text transform="matrix(0.867 0 0 1 404.67 0)">a</text><text transform="matrix(1.266 0 0 1 413.05 0)">f</text><text transform="matrix(0.867 0 0 1 418.29 0)">a</text><text transform="matrix(1.048 0 0 1 426.75 0)">d</text><text transform="matrix(0.986 0 0 1 435.85 0)">i</text><text transform="matrix(1.040 0 0 1 439.63 0)">n</text></g>
<g transform="translate(348.31,472.6) rotate(-90)" font-size="14.4"><text transform="matrix(1.040 0 0 1 -0.99 0)">n</text><text transform="matrix(1.042 0 0 1 7.62 0)">e</text><text transform="matrix(0.968 0 0 1 16.16 0)">c</text><text transform="matrix(1.289 0 0 1 23.71 0)">t</text><text transform="matrix(0.986 0 0 1 29.47 0)">i</text><text transform="matrix(1.040 0 0 1 33.26 0)">n</text><text transform="matrix(1.040 0 0 1 41.75 0)">-</text><text transform="matrix(0.971 0 0 1 47.07 0)">1</text><text transform="matrix(1.170 0 0 1 55.49 0)">/</text><text transform="matrix(0.986 0 0 1 60.47 0)">l</text><text transform="matrix(1.040 0 0 1 64 0)">-</text><text transform="matrix(0.867 0 0 1 69.17 0)">a</text><text transform="matrix(1.266 0 0 1 77.55 0)">f</text><text transform="matrix(0.867 0 0 1 82.79 0)">a</text><text transform="matrix(1.048 0 0 1 91.25 0)">d</text><text transform="matrix(0.986 0 0 1 100.35 0)">i</text><text transform="matrix(1.040 0 0 1 104.13 0)">n</text></g>
<g transform="translate(362.38,472.6) rotate(-90)" font-size="14.4"><text transform="matrix(1.040 0 0 1 -0.99 0)">n</text><text transform="matrix(1.042 0 0 1 7.62 0)">e</text><text transform="matrix(0.968 0 0 1 16.16 0)">c</text><text transform="matrix(1.289 0 0 1 23.71 0)">t</text><text transform="matrix(0.986 0 0 1 29.47 0)">i</text><text transform="matrix(1.040 0 0 1 33.26 0)">n</text><text transform="matrix(1.040 0 0 1 41.75 0)">-</text><text transform="matrix(0.976 0 0 1 47.14 0)">3</text><text transform="matrix(0.815 0 0 1 55.83 0)">(</text><text transform="matrix(1.048 0 0 1 61 0)">d</text><text transform="matrix(0.986 0 0 1 70.1 0)">i</text><text transform="matrix(1.099 0 0 1 73.82 0)">m</text><text transform="matrix(1.042 0 0 1 87.24 0)">e</text><text transform="matrix(1.236 0 0 1 95.69 0)">r</text><text transform="matrix(0.815 0 0 1 102.41 0)">)</text><text transform="matrix(1.170 0 0 1 106.74 0)">/</text><text transform="matrix(0.986 0 0 1 111.72 0)">l</text><text transform="matrix(1.040 0 0 1 115.25 0)">-</text><text transform="matrix(0.867 0 0 1 120.42 0)">a</text><text transform="matrix(1.266 0 0 1 128.8 0)">f</text><text transform="matrix(0.867 0 0 1 134.04 0)">a</text><text transform="matrix(1.048 0 0 1 142.5 0)">d</text><text transform="matrix(0.986 0 0 1 151.6 0)">i</text><text transform="matrix(1.040 0 0 1 155.38 0)">n</text><text transform="matrix(1.170 0 0 1 163.86 0)">/</text><text transform="matrix(0.986 0 0 1 168.84 0)">l</text><text transform="matrix(1.040 0 0 1 172.38 0)">-</text><text transform="matrix(0.867 0 0 1 177.54 0)">a</text><text transform="matrix(1.266 0 0 1 185.92 0)">f</text><text transform="matrix(0.867 0 0 1 191.17 0)">a</text><text transform="matrix(1.048 0 0 1 199.62 0)">d</text><text transform="matrix(0.986 0 0 1 208.72 0)">i</text><text transform="matrix(1.040 0 0 1 212.51 0)">n</text><text transform="matrix(1.170 0 0 1 220.99 0)">/</text><text transform="matrix(1.040 0 0 1 225.88 0)">n</text><text transform="matrix(1.042 0 0 1 234.49 0)">e</text><text transform="matrix(0.968 0 0 1 243.04 0)">c</text><text transform="matrix(1.289 0 0 1 250.58 0)">t</text><text transform="matrix(0.986 0 0 1 256.35 0)">i</text><text transform="matrix(1.040 0 0 1 260.13 0)">n</text><text transform="matrix(1.040 0 0 1 268.63 0)">-</text><text transform="matrix(0.980 0 0 1 273.8 0)">2</text><text transform="matrix(0.815 0 0 1 282.7 0)">(</text><text transform="matrix(1.048 0 0 1 287.87 0)">d</text><text transform="matrix(0.986 0 0 1 296.97 0)">i</text><text transform="matrix(1.099 0 0 1 300.7 0)">m</text><text transform="matrix(1.042 0 0 1 314.12 0)">e</text><text transform="matrix(1.236 0 0 1 322.57 0)">r</text><text transform="matrix(0.815 0 0 1 329.28 0)">)</text><text transform="matrix(1.170 0 0 1 333.61 0)">/</text><text transform="matrix(0.986 0 0 1 338.59 0)">l</text><text transform="matrix(1.040 0 0 1 342.13 0)">-</text><text transform="matrix(0.867 0 0 1 347.29 0)">a</text><text transform="matrix(1.266 0 0 1 355.67 0)">f</text><text transform="matrix(0.867 0 0 1 360.92 0)">a</text><text transform="matrix(1.048 0 0 1 369.37 0)">d</text><text transform="matrix(0.986 0 0 1 378.47 0)">i</text><text transform="matrix(1.040 0 0 1 382.26 0)">n</text><text transform="matrix(1.170 0 0 1 390.74 0)">/</text><text transform="matrix(0.986 0 0 1 395.72 0)">l</text><text transform="matrix(1.040 0 0 1 399.25 0)">-</text><text transform="matrix(0.867 0 0 1 404.42 0)">a</text><text transform="matrix(1.266 0 0 1 412.8 0)">f</text><text transform="matrix(0.867 0 0 1 418.04 0)">a</text><text transform="matrix(1.048 0 0 1 426.5 0)">d</text><text transform="matrix(0.986 0 0 1 435.6 0)">i</text><text transform="matrix(1.040 0 0 1 439.38 0)">n</text></g>
<g transform="translate(376.44,472.47) rotate(-90)" font-size="14.4"><text transform="matrix(0.853 0 0 1 -1.01 0)">P</text><text transform="matrix(0.979 0 0 1 7.06 0)">V</text><text transform="matrix(0.922 0 0 1 16.79 0)">R</text><text transform="matrix(0.992 0 0 1 26.33 0)">L</text><text transform="matrix(0.976 0 0 1 34.41 0)">3</text></g>
<g transform="translate(390.5,472.06) rotate(-90)" font-size="14.4"><text transform="matrix(0.895 0 0 1 -0.65 0)">C</text><text transform="matrix(0.998 0 0 1 9.15 0)">D</text><text transform="matrix(0.895 0 0 1 19.85 0)">C</text><text transform="matrix(1.017 0 0 1 29.81 0)">4</text><text transform="matrix(0.980 0 0 1 38.53 0)">2</text><text transform="matrix(1.170 0 0 1 46.97 0)">/</text><text transform="matrix(0.941 0 0 1 51.69 0)">G</text><text transform="matrix(1.052 0 0 1 61.46 0)">T</text><text transform="matrix(0.853 0 0 1 70.7 0)">P</text><text transform="matrix(1.170 0 0 1 78.72 0)">/</text><text transform="matrix(1.020 0 0 1 83.35 0)">I</text><text transform="matrix(0.953 0 0 1 87.47 0)">Q</text><text transform="matrix(0.941 0 0 1 98.32 0)">G</text><text transform="matrix(0.972 0 0 1 109.05 0)">A</text><text transform="matrix(0.853 0 0 1 118.83 0)">P</text><text transform="matrix(0.971 0 0 1 127.31 0)">1</text><text transform="matrix(1.170 0 0 1 135.72 0)">/</text><text transform="matrix(1.266 0 0 1 140.41 0)">f</text><text transform="matrix(0.986 0 0 1 145.7 0)">i</text><text transform="matrix(0.986 0 0 1 149.57 0)">l</text><text transform="matrix(0.867 0 0 1 153.4 0)">a</text><text transform="matrix(1.099 0 0 1 161.93 0)">m</text><text transform="matrix(1.042 0 0 1 175.35 0)">e</text><text transform="matrix(1.040 0 0 1 183.99 0)">n</text><text transform="matrix(1.289 0 0 1 192.56 0)">t</text><text transform="matrix(1.025 0 0 1 198.12 0)">o</text><text transform="matrix(1.040 0 0 1 206.68 0)">u</text><text transform="matrix(0.925 0 0 1 215.6 0)">s</text><text transform="matrix(0.867 0 0 1 227.02 0)">a</text><text transform="matrix(0.968 0 0 1 235.52 0)">c</text><text transform="matrix(1.289 0 0 1 243.06 0)">t</text><text transform="matrix(0.986 0 0 1 248.83 0)">i</text><text transform="matrix(1.040 0 0 1 252.61 0)">n</text></g>
<g transform="translate(404.56,471.47) rotate(-90)" font-size="14.4"><text transform="matrix(0.922 0 0 1 -1.09 0)">R</text><text transform="matrix(0.972 0 0 1 7.84 0)">A</text><text transform="matrix(0.895 0 0 1 17.14 0)">C</text><text transform="matrix(0.971 0 0 1 27.22 0)">1</text><text transform="matrix(1.170 0 0 1 35.64 0)">/</text><text transform="matrix(0.941 0 0 1 40.36 0)">G</text><text transform="matrix(1.052 0 0 1 50.13 0)">T</text><text transform="matrix(0.853 0 0 1 59.37 0)">P</text><text transform="matrix(1.170 0 0 1 67.39 0)">/</text><text transform="matrix(1.020 0 0 1 72.02 0)">I</text><text transform="matrix(0.953 0 0 1 76.14 0)">Q</text><text transform="matrix(0.941 0 0 1 86.99 0)">G</text><text transform="matrix(0.972 0 0 1 97.72 0)">A</text><text transform="matrix(0.853 0 0 1 107.49 0)">P</text><text transform="matrix(0.971 0 0 1 115.97 0)">1</text><text transform="matrix(1.170 0 0 1 124.39 0)">/</text><text transform="matrix(1.266 0 0 1 129.07 0)">f</text><text transform="matrix(0.986 0 0 1 134.37 0)">i</text><text transform="matrix(0.986 0 0 1 138.24 0)">l</text><text transform="matrix(0.867 0 0 1 142.07 0)">a</text><text transform="matrix(1.099 0 0 1 150.6 0)">m</text><text transform="matrix(1.042 0 0 1 164.02 0)">e</text><text transform="matrix(1.040 0 0 1 172.65 0)">n</text><text transform="matrix(1.289 0 0 1 181.23 0)">t</text><text transform="matrix(1.025 0 0 1 186.78 0)">o</text><text transform="matrix(1.040 0 0 1 195.34 0)">u</text><text transform="matrix(0.925 0 0 1 204.27 0)">s</text><text transform="matrix(0.867 0 0 1 215.69 0)">a</text><text transform="matrix(0.968 0 0 1 224.19 0)">c</text><text transform="matrix(1.289 0 0 1 231.73 0)">t</text><text transform="matrix(0.986 0 0 1 237.5 0)">i</text><text transform="matrix(1.040 0 0 1 241.28 0)">n</text></g>
<g transform="translate(418.62,472.06) rotate(-90)" font-size="14.4"><text transform="matrix(0.895 0 0 1 -0.65 0)">C</text><text transform="matrix(0.998 0 0 1 9.15 0)">D</text><text transform="matrix(0.959 0 0 1 19.95 0)">H</text><text transform="matrix(0.971 0 0 1 30.56 0)">1</text></g>
<g transform="translate(432.69,471.92) rotate(-90)" font-size="14.4"><text transform="matrix(0.867 0 0 1 -0.53 0)">a</text><text transform="matrix(1.048 0 0 1 7.92 0)">d</text><text transform="matrix(1.047 0 0 1 16.88 0)">h</text><text transform="matrix(1.042 0 0 1 25.54 0)">e</text><text transform="matrix(1.236 0 0 1 34 0)">r</text><text transform="matrix(1.042 0 0 1 39.54 0)">e</text><text transform="matrix(1.040 0 0 1 48.18 0)">n</text><text transform="matrix(0.925 0 0 1 57.05 0)">s</text><text transform="matrix(1.088 0 0 1 68.3 0)">j</text><text transform="matrix(1.040 0 0 1 72.37 0)">u</text><text transform="matrix(1.040 0 0 1 81.18 0)">n</text><text transform="matrix(0.968 0 0 1 89.84 0)">c</text><text transform="matrix(1.289 0 0 1 97.38 0)">t</text><text transform="matrix(0.986 0 0 1 103.15 0)">i</text><text transform="matrix(1.025 0 0 1 106.81 0)">o</text><text transform="matrix(1.040 0 0 1 115.43 0)">n</text><text transform="matrix(0.867 0 0 1 128.59 0)">a</text><text transform="matrix(0.925 0 0 1 137.3 0)">s</text><text transform="matrix(0.925 0 0 1 144.42 0)">s</text><text transform="matrix(1.042 0 0 1 151.29 0)">e</text><text transform="matrix(1.099 0 0 1 159.88 0)">m</text><text transform="matrix(1.049 0 0 1 173.45 0)">b</text><text transform="matrix(0.986 0 0 1 182.39 0)">l</text><text transform="matrix(1.036 0 0 1 186.29 0)">y</text></g>
<g transform="translate(446.75,472.6) rotate(-90)" font-size="14.4"><text transform="matrix(1.099 0 0 1 -1.05 0)">m</text><text transform="matrix(1.025 0 0 1 12.38 0)">o</text><text transform="matrix(0.986 0 0 1 21.09 0)">l</text><text transform="matrix(1.044 0 0 1 24.87 0)">:</text><text transform="matrix(0.941 0 0 1 29.34 0)">G</text><text transform="matrix(1.052 0 0 1 39.11 0)">T</text><text transform="matrix(0.853 0 0 1 48.34 0)">P</text></g>
<g transform="translate(460.81,472.47) rotate(-90)" font-size="14.4"><text transform="matrix(0.853 0 0 1 -1.01 0)">P</text><text transform="matrix(0.979 0 0 1 7.06 0)">V</text><text transform="matrix(0.922 0 0 1 16.79 0)">R</text></g>
<g transform="translate(474.88,472.48) rotate(-90)" font-size="14.4"><text transform="matrix(0.953 0 0 1 -1.13 0)">N</text><text transform="matrix(1.042 0 0 1 9.14 0)">e</text><text transform="matrix(0.968 0 0 1 17.69 0)">c</text><text transform="matrix(0.986 0 0 1 25.49 0)">l</text><text transform="matrix(1.040 0 0 1 29.02 0)">-</text><text transform="matrix(0.960 0 0 1 34.41 0)">5</text><text transform="matrix(0.815 0 0 1 43.1 0)">(</text><text transform="matrix(1.048 0 0 1 48.27 0)">d</text><text transform="matrix(0.986 0 0 1 57.37 0)">i</text><text transform="matrix(1.099 0 0 1 61.1 0)">m</text><text transform="matrix(1.042 0 0 1 74.52 0)">e</text><text transform="matrix(1.236 0 0 1 82.97 0)">r</text><text transform="matrix(0.815 0 0 1 89.68 0)">)</text></g>
<g transform="translate(488.94,472.47) rotate(-90)" font-size="14.4"><text transform="matrix(1.020 0 0 1 -1.36 0)">I</text><text transform="matrix(1.052 0 0 1 2.26 0)">T</text><text transform="matrix(0.941 0 0 1 11.24 0)">G</text><text transform="matrix(0.937 0 0 1 22.14 0)">B</text><text transform="matrix(0.976 0 0 1 32.03 0)">3</text></g>
<g transform="translate(503,472.6) rotate(-90)" font-size="14.4"><text transform="matrix(1.040 0 0 1 -0.99 0)">n</text><text transform="matrix(1.042 0 0 1 7.62 0)">e</text><text transform="matrix(0.968 0 0 1 16.16 0)">c</text><text transform="matrix(1.289 0 0 1 23.71 0)">t</text><text transform="matrix(0.986 0 0 1 29.47 0)">i</text><text transform="matrix(1.040 0 0 1 33.26 0)">n</text><text transform="matrix(1.040 0 0 1 41.75 0)">-</text><text transform="matrix(0.976 0 0 1 47.14 0)">3</text><text transform="matrix(0.815 0 0 1 55.83 0)">(</text><text transform="matrix(1.048 0 0 1 61 0)">d</text><text transform="matrix(0.986 0 0 1 70.1 0)">i</text><text transform="matrix(1.099 0 0 1 73.82 0)">m</text><text transform="matrix(1.042 0 0 1 87.24 0)">e</text><text transform="matrix(1.236 0 0 1 95.69 0)">r</text><text transform="matrix(0.815 0 0 1 102.41 0)">)</text><text transform="matrix(1.170 0 0 1 106.74 0)">/</text><text transform="matrix(0.986 0 0 1 111.72 0)">l</text><text transform="matrix(1.040 0 0 1 115.25 0)">-</text><text transform="matrix(0.867 0 0 1 120.42 0)">a</text><text transform="matrix(1.266 0 0 1 128.8 0)">f</text><text transform="matrix(0.867 0 0 1 134.04 0)">a</text><text transform="matrix(1.048 0 0 1 142.5 0)">d</text><text transform="matrix(0.986 0 0 1 151.6 0)">i</text><text transform="matrix(1.040 0 0 1 155.38 0)">n</text><text transform="matrix(1.170 0 0 1 163.86 0)">/</text><text transform="matrix(0.986 0 0 1 168.84 0)">l</text><text transform="matrix(1.040 0 0 1 172.38 0)">-</text><text transform="matrix(0.867 0 0 1 177.54 0)">a</text><text transform="matrix(1.266 0 0 1 185.92 0)">f</text><text transform="matrix(0.867 0 0 1 191.17 0)">a</text><text transform="matrix(1.048 0 0 1 199.62 0)">d</text><text transform="matrix(0.986 0 0 1 208.72 0)">i</text><text transform="matrix(1.040 0 0 1 212.51 0)">n</text></g>
<g transform="translate(517.06,472.6) rotate(-90)" font-size="14.4"><text transform="matrix(1.040 0 0 1 -0.99 0)">n</text><text transform="matrix(1.042 0 0 1 7.62 0)">e</text><text transform="matrix(0.968 0 0 1 16.16 0)">c</text><text transform="matrix(1.289 0 0 1 23.71 0)">t</text><text transform="matrix(0.986 0 0 1 29.47 0)">i</text><text transform="matrix(1.040 0 0 1 33.26 0)">n</text><text transform="matrix(1.040 0 0 1 41.75 0)">-</text><text transform="matrix(0.976 0 0 1 47.14 0)">3</text><text transform="matrix(0.815 0 0 1 55.83 0)">(</text><text transform="matrix(1.048 0 0 1 61 0)">d</text><text transform="matrix(0.986 0 0 1 70.1 0)">i</text><text transform="matrix(1.099 0 0 1 73.82 0)">m</text><text transform="matrix(1.042 0 0 1 87.24 0)">e</text><text transform="matrix(1.236 0 0 1 95.69 0)">r</text><text transform="matrix(0.815 0 0 1 102.41 0)">)</text><text transform="matrix(1.170 0 0 1 106.74 0)">/</text><text transform="matrix(0.986 0 0 1 111.72 0)">l</text><text transform="matrix(1.040 0 0 1 115.25 0)">-</text><text transform="matrix(0.867 0 0 1 120.42 0)">a</text><text transform="matrix(1.266 0 0 1 128.8 0)">f</text><text transform="matrix(0.867 0 0 1 134.04 0)">a</text><text transform="matrix(1.048 0 0 1 142.5 0)">d</text><text transform="matrix(0.986 0 0 1 151.6 0)">i</text><text transform="matrix(1.040 0 0 1 155.38 0)">n</text><text transform="matrix(1.170 0 0 1 163.86 0)">/</text><text transform="matrix(0.986 0 0 1 168.84 0)">l</text><text transform="matrix(1.040 0 0 1 172.38 0)">-</text><text transform="matrix(0.867 0 0 1 177.54 0)">a</text><text transform="matrix(1.266 0 0 1 185.92 0)">f</text><text transform="matrix(0.867 0 0 1 191.17 0)">a</text><text transform="matrix(1.048 0 0 1 199.62 0)">d</text><text transform="matrix(0.986 0 0 1 208.72 0)">i</text><text transform="matrix(1.040 0 0 1 212.51 0)">n</text><text transform="matrix(1.170 0 0 1 220.99 0)">/</text><text transform="matrix(1.040 0 0 1 225.88 0)">n</text><text transform="matrix(1.042 0 0 1 234.49 0)">e</text><text transform="matrix(0.968 0 0 1 243.04 0)">c</text><text transform="matrix(1.289 0 0 1 250.58 0)">t</text><text transform="matrix(0.986 0 0 1 256.35 0)">i</text><text transform="matrix(1.040 0 0 1 260.13 0)">n</text><text transform="matrix(1.040 0 0 1 268.63 0)">-</text><text transform="matrix(0.976 0 0 1 274.01 0)">3</text><text transform="matrix(0.815 0 0 1 282.7 0)">(</text><text transform="matrix(1.048 0 0 1 287.87 0)">d</text><text transform="matrix(0.986 0 0 1 296.97 0)">i</text><text transform="matrix(1.099 0 0 1 300.7 0)">m</text><text transform="matrix(1.042 0 0 1 314.12 0)">e</text><text transform="matrix(1.236 0 0 1 322.57 0)">r</text><text transform="matrix(0.815 0 0 1 329.28 0)">)</text><text transform="matrix(1.170 0 0 1 333.61 0)">/</text><text transform="matrix(0.986 0 0 1 338.59 0)">l</text><text transform="matrix(1.040 0 0 1 342.13 0)">-</text><text transform="matrix(0.867 0 0 1 347.29 0)">a</text><text transform="matrix(1.266 0 0 1 355.67 0)">f</text><text transform="matrix(0.867 0 0 1 360.92 0)">a</text><text transform="matrix(1.048 0 0 1 369.37 0)">d</text><text transform="matrix(0.986 0 0 1 378.47 0)">i</text><text transform="matrix(1.040 0 0 1 382.26 0)">n</text><text transform="matrix(1.170 0 0 1 390.74 0)">/</text><text transform="matrix(0.986 0 0 1 395.72 0)">l</text><text transform="matrix(1.040 0 0 1 399.25 0)">-</text><text transform="matrix(0.867 0 0 1 404.42 0)">a</text><text transform="matrix(1.266 0 0 1 412.8 0)">f</text><text transform="matrix(0.867 0 0 1 418.04 0)">a</text><text transform="matrix(1.048 0 0 1 426.5 0)">d</text><text transform="matrix(0.986 0 0 1 435.6 0)">i</text><text transform="matrix(1.040 0 0 1 439.38 0)">n</text></g>
<g transform="translate(531.12,472.6) rotate(-90)" font-size="14.4"><text transform="matrix(1.040 0 0 1 -0.99 0)">n</text><text transform="matrix(1.042 0 0 1 7.62 0)">e</text><text transform="matrix(0.968 0 0 1 16.16 0)">c</text><text transform="matrix(1.289 0 0 1 23.71 0)">t</text><text transform="matrix(0.986 0 0 1 29.47 0)">i</text><text transform="matrix(1.040 0 0 1 33.26 0)">n</text><text transform="matrix(1.040 0 0 1 41.75 0)">-</text><text transform="matrix(0.976 0 0 1 47.14 0)">3</text><text transform="matrix(1.170 0 0 1 55.36 0)">/</text><text transform="matrix(0.986 0 0 1 60.34 0)">l</text><text transform="matrix(1.040 0 0 1 63.88 0)">-</text><text transform="matrix(0.867 0 0 1 69.04 0)">a</text><text transform="matrix(1.266 0 0 1 77.42 0)">f</text><text transform="matrix(0.867 0 0 1 82.67 0)">a</text><text transform="matrix(1.048 0 0 1 91.12 0)">d</text><text transform="matrix(0.986 0 0 1 100.22 0)">i</text><text transform="matrix(1.040 0 0 1 104.01 0)">n</text></g>
<g transform="translate(545.19,472.47) rotate(-90)" font-size="14.4"><text transform="matrix(0.922 0 0 1 -1.09 0)">R</text><text transform="matrix(0.972 0 0 1 7.84 0)">A</text><text transform="matrix(0.853 0 0 1 17.62 0)">P</text><text transform="matrix(0.971 0 0 1 26.1 0)">1</text><text transform="matrix(0.937 0 0 1 34.77 0)">B</text></g>
<g transform="translate(559.25,472.47) rotate(-90)" font-size="14.4"><text transform="matrix(0.853 0 0 1 -1.01 0)">P</text><text transform="matrix(1.052 0 0 1 6.63 0)">T</text><text transform="matrix(0.853 0 0 1 15.87 0)">P</text><text transform="matrix(0.922 0 0 1 24.16 0)">R</text><text transform="matrix(0.962 0 0 1 33.74 0)">M</text></g>
<g transform="translate(573.31,472.06) rotate(-90)" font-size="14.4"><text transform="matrix(0.895 0 0 1 -0.65 0)">C</text><text transform="matrix(1.052 0 0 1 8.59 0)">T</text><text transform="matrix(0.953 0 0 1 17.71 0)">N</text><text transform="matrix(0.953 0 0 1 28.08 0)">N</text><text transform="matrix(0.937 0 0 1 38.48 0)">B</text><text transform="matrix(0.971 0 0 1 48.31 0)">1</text></g>
<g transform="translate(587.38,472.47) rotate(-90)" font-size="14.4"><text transform="matrix(1.020 0 0 1 -1.36 0)">I</text><text transform="matrix(0.953 0 0 1 2.77 0)">Q</text><text transform="matrix(0.941 0 0 1 13.61 0)">G</text><text transform="matrix(0.972 0 0 1 24.34 0)">A</text><text transform="matrix(0.853 0 0 1 34.12 0)">P</text><text transform="matrix(0.971 0 0 1 42.6 0)">1</text></g>
<g transform="translate(601.44,472.47) rotate(-90)" font-size="14.4"><text transform="matrix(0.853 0 0 1 -1.01 0)">P</text><text transform="matrix(1.020 0 0 1 7.02 0)">I</text><text transform="matrix(0.973 0 0 1 11.23 0)">K</text><text transform="matrix(0.976 0 0 1 20.53 0)">3</text><text transform="matrix(0.895 0 0 1 28.89 0)">C</text><text transform="matrix(0.972 0 0 1 38.59 0)">A</text></g>
<g transform="translate(615.5,471.92) rotate(-90)" font-size="14.4"><text transform="matrix(0.867 0 0 1 -0.53 0)">a</text><text transform="matrix(0.986 0 0 1 8.14 0)">l</text><text transform="matrix(1.049 0 0 1 11.95 0)">p</text><text transform="matrix(1.047 0 0 1 20.76 0)">h</text><text transform="matrix(0.867 0 0 1 29.59 0)">a</text><text transform="matrix(0.979 0 0 1 37.96 0)">V</text><text transform="matrix(1.049 0 0 1 52.08 0)">b</text><text transform="matrix(1.042 0 0 1 60.79 0)">e</text><text transform="matrix(1.289 0 0 1 69.26 0)">t</text><text transform="matrix(0.867 0 0 1 74.97 0)">a</text><text transform="matrix(0.976 0 0 1 83.81 0)">3</text><text transform="matrix(1.020 0 0 1 96.42 0)">I</text><text transform="matrix(1.040 0 0 1 100.68 0)">n</text><text transform="matrix(1.289 0 0 1 109.26 0)">t</text><text transform="matrix(1.042 0 0 1 114.79 0)">e</text><text transform="matrix(1.048 0 0 1 123.3 0)">g</text><text transform="matrix(1.236 0 0 1 132.12 0)">r</text><text transform="matrix(0.986 0 0 1 138.15 0)">i</text><text transform="matrix(1.040 0 0 1 141.93 0)">n</text></g>
<g transform="translate(629.56,472.06) rotate(-90)" font-size="14.4"><text transform="matrix(0.895 0 0 1 -0.65 0)">C</text><text transform="matrix(0.998 0 0 1 9.15 0)">D</text><text transform="matrix(0.895 0 0 1 19.85 0)">C</text><text transform="matrix(1.017 0 0 1 29.81 0)">4</text><text transform="matrix(0.980 0 0 1 38.53 0)">2</text></g>
<g transform="translate(643.62,472.06) rotate(-90)" font-size="14.4"><text transform="matrix(0.895 0 0 1 -0.65 0)">C</text><text transform="matrix(1.052 0 0 1 8.59 0)">T</text><text transform="matrix(0.953 0 0 1 17.71 0)">N</text><text transform="matrix(0.953 0 0 1 28.08 0)">N</text><text transform="matrix(0.972 0 0 1 38.3 0)">A</text><text transform="matrix(0.971 0 0 1 48.18 0)">1</text></g>
<g transform="translate(657.69,472.47) rotate(-90)" font-size="14.4"><text transform="matrix(0.827 0 0 1 -0.98 0)">F</text><text transform="matrix(0.971 0 0 1 7.1 0)">1</text><text transform="matrix(0.971 0 0 1 15.97 0)">1</text><text transform="matrix(0.922 0 0 1 24.66 0)">R</text></g>
<g transform="translate(671.75,472.47) rotate(-90)" font-size="14.4"><text transform="matrix(1.020 0 0 1 -1.36 0)">I</text><text transform="matrix(1.052 0 0 1 2.26 0)">T</text><text transform="matrix(0.941 0 0 1 11.24 0)">G</text><text transform="matrix(0.972 0 0 1 21.97 0)">A</text><text transform="matrix(0.979 0 0 1 30.56 0)">V</text></g>
<g transform="translate(685.81,472.48) rotate(-90)" font-size="14.4"><text transform="matrix(0.962 0 0 1 -1.14 0)">M</text><text transform="matrix(0.992 0 0 1 10.83 0)">L</text><text transform="matrix(0.992 0 0 1 18.58 0)">L</text><text transform="matrix(1.052 0 0 1 23.88 0)">T</text><text transform="matrix(1.017 0 0 1 33.1 0)">4</text></g>
<g transform="translate(699.88,472.47) rotate(-90)" font-size="14.4"><text transform="matrix(0.853 0 0 1 -1.01 0)">P</text><text transform="matrix(1.020 0 0 1 7.02 0)">I</text><text transform="matrix(0.973 0 0 1 11.23 0)">K</text><text transform="matrix(0.976 0 0 1 20.53 0)">3</text><text transform="matrix(0.922 0 0 1 29.04 0)">R</text><text transform="matrix(0.971 0 0 1 38.85 0)">1</text></g>
<g transform="translate(713.94,472.47) rotate(-90)" font-size="14.4"><text transform="matrix(0.853 0 0 1 -1.01 0)">P</text><text transform="matrix(0.979 0 0 1 7.06 0)">V</text><text transform="matrix(0.922 0 0 1 16.79 0)">R</text><text transform="matrix(0.992 0 0 1 26.33 0)">L</text><text transform="matrix(0.980 0 0 1 34.19 0)">2</text></g>
<g transform="translate(728,472.47) rotate(-90)" font-size="14.4"><text transform="matrix(0.922 0 0 1 -1.09 0)">R</text><text transform="matrix(0.972 0 0 1 7.84 0)">A</text><text transform="matrix(0.895 0 0 1 17.14 0)">C</text><text transform="matrix(0.971 0 0 1 27.22 0)">1</text></g>
<g transform="translate(742.06,472.47) rotate(-90)" font-size="14.4"><text transform="matrix(0.922 0 0 1 -1.09 0)">R</text><text transform="matrix(0.972 0 0 1 7.84 0)">A</text><text transform="matrix(0.853 0 0 1 17.62 0)">P</text><text transform="matrix(0.971 0 0 1 26.1 0)">1</text><text transform="matrix(0.972 0 0 1 34.59 0)">A</text></g>
<g transform="translate(756.12,472.47) rotate(-90)" font-size="14.4"><text transform="matrix(0.853 0 0 1 -1.01 0)">P</text><text transform="matrix(1.020 0 0 1 7.02 0)">I</text><text transform="matrix(0.853 0 0 1 11.37 0)">P</text><text transform="matrix(0.960 0 0 1 19.91 0)">5</text><text transform="matrix(0.973 0 0 1 28.35 0)">K</text><text transform="matrix(0.971 0 0 1 37.6 0)">1</text><text transform="matrix(0.895 0 0 1 46.14 0)">C</text></g>
<g transform="translate(770.19,472.6) rotate(-90)" font-size="14.4"><text transform="matrix(1.040 0 0 1 -0.99 0)">n</text><text transform="matrix(1.042 0 0 1 7.62 0)">e</text><text transform="matrix(0.968 0 0 1 16.16 0)">c</text><text transform="matrix(1.289 0 0 1 23.71 0)">t</text><text transform="matrix(0.986 0 0 1 29.47 0)">i</text><text transform="matrix(1.040 0 0 1 33.26 0)">n</text><text transform="matrix(1.040 0 0 1 41.75 0)">-</text><text transform="matrix(0.980 0 0 1 46.92 0)">2</text><text transform="matrix(0.815 0 0 1 55.83 0)">(</text><text transform="matrix(1.048 0 0 1 61 0)">d</text><text transform="matrix(0.986 0 0 1 70.1 0)">i</text><text transform="matrix(1.099 0 0 1 73.82 0)">m</text><text transform="matrix(1.042 0 0 1 87.24 0)">e</text><text transform="matrix(1.236 0 0 1 95.69 0)">r</text><text transform="matrix(0.815 0 0 1 102.41 0)">)</text><text transform="matrix(1.170 0 0 1 106.74 0)">/</text><text transform="matrix(0.986 0 0 1 111.72 0)">l</text><text transform="matrix(1.040 0 0 1 115.25 0)">-</text><text transform="matrix(0.867 0 0 1 120.42 0)">a</text><text transform="matrix(1.266 0 0 1 128.8 0)">f</text><text transform="matrix(0.867 0 0 1 134.04 0)">a</text><text transform="matrix(1.048 0 0 1 142.5 0)">d</text><text transform="matrix(0.986 0 0 1 151.6 0)">i</text><text transform="matrix(1.040 0 0 1 155.38 0)">n</text><text transform="matrix(1.170 0 0 1 163.86 0)">/</text><text transform="matrix(0.986 0 0 1 168.84 0)">l</text><text transform="matrix(1.040 0 0 1 172.38 0)">-</text><text transform="matrix(0.867 0 0 1 177.54 0)">a</text><text transform="matrix(1.266 0 0 1 185.92 0)">f</text><text transform="matrix(0.867 0 0 1 191.17 0)">a</text><text transform="matrix(1.048 0 0 1 199.62 0)">d</text><text transform="matrix(0.986 0 0 1 208.72 0)">i</text><text transform="matrix(1.040 0 0 1 212.51 0)">n</text></g>
<g transform="translate(784.25,472.6) rotate(-90)" font-size="14.4"><text transform="matrix(1.040 0 0 1 -0.99 0)">n</text><text transform="matrix(1.042 0 0 1 7.62 0)">e</text><text transform="matrix(0.968 0 0 1 16.16 0)">c</text><text transform="matrix(1.289 0 0 1 23.71 0)">t</text><text transform="matrix(0.986 0 0 1 29.47 0)">i</text><text transform="matrix(1.040 0 0 1 33.26 0)">n</text><text transform="matrix(1.040 0 0 1 41.75 0)">-</text><text transform="matrix(0.980 0 0 1 46.92 0)">2</text><text transform="matrix(0.815 0 0 1 55.83 0)">(</text><text transform="matrix(1.048 0 0 1 61 0)">d</text><text transform="matrix(0.986 0 0 1 70.1 0)">i</text><text transform="matrix(1.099 0 0 1 73.82 0)">m</text><text transform="matrix(1.042 0 0 1 87.24 0)">e</text><text transform="matrix(1.236 0 0 1 95.69 0)">r</text><text transform="matrix(0.815 0 0 1 102.41 0)">)</text><text transform="matrix(1.170 0 0 1 106.74 0)">/</text><text transform="matrix(0.986 0 0 1 111.72 0)">l</text><text transform="matrix(1.040 0 0 1 115.25 0)">-</text><text transform="matrix(0.867 0 0 1 120.42 0)">a</text><text transform="matrix(1.266 0 0 1 128.8 0)">f</text><text transform="matrix(0.867 0 0 1 134.04 0)">a</text><text transform="matrix(1.048 0 0 1 142.5 0)">d</text><text transform="matrix(0.986 0 0 1 151.6 0)">i</text><text transform="matrix(1.040 0 0 1 155.38 0)">n</text><text transform="matrix(1.170 0 0 1 163.86 0)">/</text><text transform="matrix(0.986 0 0 1 168.84 0)">l</text><text transform="matrix(1.040 0 0 1 172.38 0)">-</text><text transform="matrix(0.867 0 0 1 177.54 0)">a</text><text transform="matrix(1.266 0 0 1 185.92 0)">f</text><text transform="matrix(0.867 0 0 1 191.17 0)">a</text><text transform="matrix(1.048 0 0 1 199.62 0)">d</text><text transform="matrix(0.986 0 0 1 208.72 0)">i</text><text transform="matrix(1.040 0 0 1 212.51 0)">n</text><text transform="matrix(1.170 0 0 1 220.99 0)">/</text><text transform="matrix(1.040 0 0 1 225.88 0)">n</text><text transform="matrix(1.042 0 0 1 234.49 0)">e</text><text transform="matrix(0.968 0 0 1 243.04 0)">c</text><text transform="matrix(1.289 0 0 1 250.58 0)">t</text><text transform="matrix(0.986 0 0 1 256.35 0)">i</text><text transform="matrix(1.040 0 0 1 260.13 0)">n</text><text transform="matrix(1.040 0 0 1 268.63 0)">-</text><text transform="matrix(0.980 0 0 1 273.8 0)">2</text><text transform="matrix(0.815 0 0 1 282.7 0)">(</text><text transform="matrix(1.048 0 0 1 287.87 0)">d</text><text transform="matrix(0.986 0 0 1 296.97 0)">i</text><text transform="matrix(1.099 0 0 1 300.7 0)">m</text><text transform="matrix(1.042 0 0 1 314.12 0)">e</text><text transform="matrix(1.236 0 0 1 322.57 0)">r</text><text transform="matrix(1.170 0 0 1 328.24 0)">/</text><text transform="matrix(0.986 0 0 1 333.22 0)">l</text><text transform="matrix(1.040 0 0 1 336.75 0)">-</text><text transform="matrix(0.867 0 0 1 341.92 0)">a</text><text transform="matrix(1.266 0 0 1 350.3 0)">f</text><text transform="matrix(0.867 0 0 1 355.54 0)">a</text><text transform="matrix(1.048 0 0 1 364 0)">d</text><text transform="matrix(0.986 0 0 1 373.1 0)">i</text><text transform="matrix(1.040 0 0 1 376.88 0)">n</text><text transform="matrix(1.170 0 0 1 385.36 0)">/</text><text transform="matrix(0.986 0 0 1 390.34 0)">l</text><text transform="matrix(1.040 0 0 1 393.88 0)">-</text><text transform="matrix(0.867 0 0 1 399.04 0)">a</text><text transform="matrix(1.266 0 0 1 407.42 0)">f</text><text transform="matrix(0.867 0 0 1 412.67 0)">a</text><text transform="matrix(1.048 0 0 1 421.12 0)">d</text><text transform="matrix(0.986 0 0 1 430.22 0)">i</text><text transform="matrix(1.040 0 0 1 434.01 0)">n</text></g>
<g transform="translate(798.31,472.6) rotate(-90)" font-size="14.4"><text transform="matrix(1.040 0 0 1 -0.99 0)">n</text><text transform="matrix(1.042 0 0 1 7.62 0)">e</text><text transform="matrix(0.968 0 0 1 16.16 0)">c</text><text transform="matrix(1.289 0 0 1 23.71 0)">t</text><text transform="matrix(0.986 0 0 1 29.47 0)">i</text><text transform="matrix(1.040 0 0 1 33.26 0)">n</text><text transform="matrix(1.040 0 0 1 41.75 0)">-</text><text transform="matrix(0.980 0 0 1 46.92 0)">2</text><text transform="matrix(1.170 0 0 1 55.36 0)">/</text><text transform="matrix(0.986 0 0 1 60.34 0)">l</text><text transform="matrix(1.040 0 0 1 63.88 0)">-</text><text transform="matrix(0.867 0 0 1 69.04 0)">a</text><text transform="matrix(1.266 0 0 1 77.42 0)">f</text><text transform="matrix(0.867 0 0 1 82.67 0)">a</text><text transform="matrix(1.048 0 0 1 91.12 0)">d</text><text transform="matrix(0.986 0 0 1 100.22 0)">i</text><text transform="matrix(1.040 0 0 1 104.01 0)">n</text></g>
<g transform="translate(812.38,472.06) rotate(-90)" font-size="14.4"><text transform="matrix(0.895 0 0 1 -0.65 0)">C</text><text transform="matrix(0.922 0 0 1 9.24 0)">R</text><text transform="matrix(0.973 0 0 1 18.81 0)">K</text></g>
<g transform="translate(826.44,472.55) rotate(-90)" font-size="14.4"><text transform="matrix(0.979 0 0 1 -0.06 0)">V</text><text transform="matrix(0.972 0 0 1 8.6 0)">A</text><text transform="matrix(0.979 0 0 1 17.19 0)">V</text><text transform="matrix(0.980 0 0 1 26.95 0)">2</text></g>
<g transform="translate(840.5,472.47) rotate(-90)" font-size="14.4"><text transform="matrix(0.922 0 0 1 -1.09 0)">R</text><text transform="matrix(0.867 0 0 1 8.32 0)">a</text><text transform="matrix(1.049 0 0 1 16.92 0)">p</text><text transform="matrix(0.971 0 0 1 25.97 0)">1</text><text transform="matrix(1.170 0 0 1 34.39 0)">/</text><text transform="matrix(0.941 0 0 1 39.11 0)">G</text><text transform="matrix(1.052 0 0 1 48.88 0)">T</text><text transform="matrix(0.853 0 0 1 58.12 0)">P</text><text transform="matrix(1.170 0 0 1 66.14 0)">/</text><text transform="matrix(0.986 0 0 1 71.11 0)">l</text><text transform="matrix(1.040 0 0 1 74.65 0)">-</text><text transform="matrix(0.867 0 0 1 79.82 0)">a</text><text transform="matrix(1.266 0 0 1 88.2 0)">f</text><text transform="matrix(0.867 0 0 1 93.44 0)">a</text><text transform="matrix(1.048 0 0 1 101.89 0)">d</text><text transform="matrix(0.986 0 0 1 111 0)">i</text><text transform="matrix(1.040 0 0 1 114.78 0)">n</text></g>
<g transform="translate(854.56,472.47) rotate(-90)" font-size="14.4"><text transform="matrix(0.827 0 0 1 -0.98 0)">F</text><text transform="matrix(0.972 0 0 1 5.47 0)">A</text><text transform="matrix(0.922 0 0 1 15.16 0)">R</text><text transform="matrix(0.853 0 0 1 24.87 0)">P</text><text transform="matrix(0.980 0 0 1 33.19 0)">2</text></g>
<g transform="translate(868.62,472.85) rotate(-90)" font-size="14.4"><text transform="matrix(1.052 0 0 1 -0.34 0)">T</text><text transform="matrix(0.992 0 0 1 8.73 0)">L</text><text transform="matrix(0.953 0 0 1 16.53 0)">N</text><text transform="matrix(0.971 0 0 1 27.13 0)">1</text></g>
<g transform="translate(882.69,472.47) rotate(-90)" font-size="14.4"><text transform="matrix(0.922 0 0 1 -1.09 0)">R</text><text transform="matrix(0.972 0 0 1 7.84 0)">A</text><text transform="matrix(0.853 0 0 1 17.62 0)">P</text><text transform="matrix(0.941 0 0 1 25.74 0)">G</text><text transform="matrix(0.836 0 0 1 36.76 0)">E</text><text transform="matrix(0.827 0 0 1 45.52 0)">F</text><text transform="matrix(0.971 0 0 1 53.6 0)">1</text></g>
<g transform="translate(896.75,472.6) rotate(-90)" font-size="14.4"><text transform="matrix(1.099 0 0 1 -1.05 0)">m</text><text transform="matrix(1.025 0 0 1 12.38 0)">o</text><text transform="matrix(0.986 0 0 1 21.09 0)">l</text><text transform="matrix(1.044 0 0 1 24.87 0)">:</text><text transform="matrix(0.941 0 0 1 29.34 0)">G</text><text transform="matrix(0.998 0 0 1 40.17 0)">D</text><text transform="matrix(0.853 0 0 1 51.09 0)">P</text></g>
<g transform="translate(910.81,472.06) rotate(-90)" font-size="14.4"><text transform="matrix(0.895 0 0 1 -0.65 0)">C</text><text transform="matrix(0.998 0 0 1 9.15 0)">D</text><text transform="matrix(0.895 0 0 1 19.85 0)">C</text><text transform="matrix(1.017 0 0 1 29.81 0)">4</text><text transform="matrix(0.980 0 0 1 38.53 0)">2</text><text transform="matrix(1.170 0 0 1 46.97 0)">/</text><text transform="matrix(0.941 0 0 1 51.69 0)">G</text><text transform="matrix(0.998 0 0 1 62.53 0)">D</text><text transform="matrix(0.853 0 0 1 73.45 0)">P</text></g>
<g transform="translate(924.88,471.92) rotate(-90)" font-size="14.4"><text transform="matrix(0.867 0 0 1 -0.53 0)">a</text><text transform="matrix(0.986 0 0 1 8.14 0)">l</text><text transform="matrix(1.049 0 0 1 11.95 0)">p</text><text transform="matrix(1.047 0 0 1 20.76 0)">h</text><text transform="matrix(0.867 0 0 1 29.59 0)">a</text><text transform="matrix(0.979 0 0 1 37.96 0)">V</text><text transform="matrix(1.170 0 0 1 47.42 0)">/</text><text transform="matrix(1.049 0 0 1 52.33 0)">b</text><text transform="matrix(1.042 0 0 1 61.04 0)">e</text><text transform="matrix(1.289 0 0 1 69.51 0)">t</text><text transform="matrix(0.867 0 0 1 75.22 0)">a</text><text transform="matrix(0.976 0 0 1 84.06 0)">3</text><text transform="matrix(1.020 0 0 1 96.67 0)">I</text><text transform="matrix(1.040 0 0 1 100.93 0)">n</text><text transform="matrix(1.289 0 0 1 109.51 0)">t</text><text transform="matrix(1.042 0 0 1 115.04 0)">e</text><text transform="matrix(1.048 0 0 1 123.55 0)">g</text><text transform="matrix(1.236 0 0 1 132.37 0)">r</text><text transform="matrix(0.986 0 0 1 138.4 0)">i</text><text transform="matrix(1.040 0 0 1 142.18 0)">n</text><text transform="matrix(1.170 0 0 1 150.67 0)">/</text><text transform="matrix(1.052 0 0 1 154.91 0)">T</text><text transform="matrix(0.867 0 0 1 161.84 0)">a</text><text transform="matrix(0.986 0 0 1 170.52 0)">l</text><text transform="matrix(0.986 0 0 1 174.4 0)">i</text><text transform="matrix(1.040 0 0 1 178.18 0)">n</text></g>
<g transform="translate(938.94,472.47) rotate(-90)" font-size="14.4"><text transform="matrix(0.922 0 0 1 -1.09 0)">R</text><text transform="matrix(0.867 0 0 1 8.32 0)">a</text><text transform="matrix(0.968 0 0 1 16.81 0)">c</text><text transform="matrix(0.971 0 0 1 24.72 0)">1</text><text transform="matrix(1.170 0 0 1 33.14 0)">/</text><text transform="matrix(0.941 0 0 1 37.86 0)">G</text><text transform="matrix(0.998 0 0 1 48.7 0)">D</text><text transform="matrix(0.853 0 0 1 59.62 0)">P</text></g>
</g>
<rect x="60.5" y="35.5" width="455" height="64" fill="#fff" stroke="#000" stroke-width="1.39"/>
<line x1="73.7" y1="51.7" x2="103.1" y2="51.7" stroke="#000" stroke-width="1.39"/>
<line x1="73.7" y1="80.7" x2="103.1" y2="80.7" stroke="#ff0000" stroke-width="1.39"/>
<g transform="translate(125.4,57.7)" font-size="20.6"><text transform="matrix(0.969 0 0 1 -1.64 0)">M</text><text transform="matrix(1.050 0 0 1 15.61 0)">e</text><text transform="matrix(0.874 0 0 1 28.25 0)">a</text><text transform="matrix(1.048 0 0 1 40.59 0)">n</text><text transform="matrix(0.874 0 0 1 59.78 0)">a</text><text transform="matrix(0.975 0 0 1 71.98 0)">c</text><text transform="matrix(1.299 0 0 1 82.87 0)">t</text><text transform="matrix(0.993 0 0 1 91.14 0)">i</text><text transform="matrix(1.049 0 0 1 96.65 0)">v</text><text transform="matrix(0.993 0 0 1 108.53 0)">i</text><text transform="matrix(1.299 0 0 1 113.65 0)">t</text><text transform="matrix(1.044 0 0 1 121.95 0)">y</text><text transform="matrix(0.993 0 0 1 140.19 0)">i</text><text transform="matrix(1.048 0 0 1 145.56 0)">n</text><text transform="matrix(0.874 0 0 1 164.76 0)">a</text><text transform="matrix(0.993 0 0 1 177.22 0)">l</text><text transform="matrix(0.993 0 0 1 182.72 0)">l</text><text transform="matrix(1.057 0 0 1 194.51 0)">p</text><text transform="matrix(1.050 0 0 1 207.05 0)">e</text><text transform="matrix(1.245 0 0 1 219.36 0)">r</text><text transform="matrix(1.107 0 0 1 227.56 0)">m</text><text transform="matrix(1.048 0 0 1 247.2 0)">u</text><text transform="matrix(1.299 0 0 1 259.8 0)">t</text><text transform="matrix(1.050 0 0 1 267.73 0)">e</text><text transform="matrix(1.056 0 0 1 280.12 0)">d</text><text transform="matrix(0.932 0 0 1 299.63 0)">s</text><text transform="matrix(0.874 0 0 1 309.9 0)">a</text><text transform="matrix(1.107 0 0 1 322.15 0)">m</text><text transform="matrix(1.057 0 0 1 341.91 0)">p</text><text transform="matrix(0.993 0 0 1 354.76 0)">l</text><text transform="matrix(1.050 0 0 1 359.95 0)">e</text><text transform="matrix(0.932 0 0 1 372.7 0)">s</text></g>
<g transform="translate(125.4,86.7)" font-size="20.6"><text transform="matrix(0.969 0 0 1 -1.64 0)">M</text><text transform="matrix(1.050 0 0 1 15.62 0)">e</text><text transform="matrix(0.874 0 0 1 28.26 0)">a</text><text transform="matrix(1.048 0 0 1 40.6 0)">n</text><text transform="matrix(0.874 0 0 1 59.8 0)">a</text><text transform="matrix(0.975 0 0 1 72.01 0)">c</text><text transform="matrix(1.299 0 0 1 82.9 0)">t</text><text transform="matrix(0.994 0 0 1 91.17 0)">i</text><text transform="matrix(1.049 0 0 1 96.68 0)">v</text><text transform="matrix(0.994 0 0 1 108.57 0)">i</text><text transform="matrix(1.299 0 0 1 113.69 0)">t</text><text transform="matrix(1.044 0 0 1 121.99 0)">y</text><text transform="matrix(0.994 0 0 1 140.24 0)">i</text><text transform="matrix(1.048 0 0 1 145.61 0)">n</text><text transform="matrix(1.058 0 0 1 164.79 0)">p</text><text transform="matrix(0.874 0 0 1 177.58 0)">a</text><text transform="matrix(1.299 0 0 1 189.66 0)">t</text><text transform="matrix(0.994 0 0 1 197.93 0)">i</text><text transform="matrix(1.050 0 0 1 203.11 0)">e</text><text transform="matrix(1.048 0 0 1 215.7 0)">n</text><text transform="matrix(1.299 0 0 1 228.21 0)">t</text><text transform="matrix(0.932 0 0 1 242.9 0)">s</text><text transform="matrix(0.874 0 0 1 253.18 0)">a</text><text transform="matrix(1.108 0 0 1 265.43 0)">m</text><text transform="matrix(1.058 0 0 1 285.19 0)">p</text><text transform="matrix(0.994 0 0 1 298.05 0)">l</text><text transform="matrix(1.050 0 0 1 303.24 0)">e</text><text transform="matrix(0.932 0 0 1 316 0)">s</text></g>
<rect x="50.5" y="25.4" width="899.9" height="450" fill="none" stroke="#000" stroke-width="1.3"/>
<path d="M191.5 25.4V31.4M191.5 475.4V469.4M331.5 25.4V31.4M331.5 475.4V469.4M472.5 25.4V31.4M472.5 475.4V469.4M612.5 25.4V31.4M612.5 475.4V469.4M753.5 25.4V31.4M753.5 475.4V469.4M894.5 25.4V31.4M894.5 475.4V469.4M50.5 25.5H56.5M950.4 25.5H944.4M50.5 81.5H56.5M950.4 81.5H944.4M50.5 138.5H56.5M950.4 138.5H944.4M50.5 194.5H56.5M950.4 194.5H944.4M50.5 250.5H56.5M950.4 250.5H944.4M50.5 306.5H56.5M950.4 306.5H944.4M50.5 362.5H56.5M950.4 362.5H944.4M50.5 419.5H56.5M950.4 419.5H944.4M50.5 475.5H56.5M950.4 475.5H944.4" stroke="#000" stroke-width="0.9" fill="none"/>
<g transform="translate(36.95,28.4)" font-size="17.2"><text transform="matrix(1.022 0 0 1 -0.4 0)">4</text></g>
<g transform="translate(37.4,85.3)" font-size="17.2"><text transform="matrix(0.981 0 0 1 -0.64 0)">3</text></g>
<g transform="translate(37.29,141.6)" font-size="17.2"><text transform="matrix(0.985 0 0 1 -0.85 0)">2</text></g>
<g transform="translate(37.77,197.6)" font-size="17.2"><text transform="matrix(0.976 0 0 1 -1.28 0)">1</text></g>
<g transform="translate(36.2,253.5)" font-size="17.2"><text transform="matrix(1.021 0 0 1 -0.69 0)">0</text></g>
<g transform="translate(36.77,310.6)" font-size="17.2"><text transform="matrix(0.976 0 0 1 -1.28 0)">1</text></g>
<rect x="23.8" y="304.7" width="10.3" height="1.35" fill="#000"/>
<g transform="translate(36.29,366.8)" font-size="17.2"><text transform="matrix(0.985 0 0 1 -0.85 0)">2</text></g>
<rect x="23.8" y="360.9" width="10.3" height="1.35" fill="#000"/>
<g transform="translate(36.4,422.5)" font-size="17.2"><text transform="matrix(0.981 0 0 1 -0.64 0)">3</text></g>
<rect x="23.8" y="416.6" width="10.3" height="1.35" fill="#000"/>
<g transform="translate(35.95,479.6)" font-size="17.2"><text transform="matrix(1.022 0 0 1 -0.4 0)">4</text></g>
<rect x="23.8" y="473.7" width="10.3" height="1.35" fill="#000"/>
<g transform="translate(297.75,17.8)" font-size="20.6"><text transform="matrix(0.959 0 0 1 -1.62 0)">N</text><text transform="matrix(1.049 0 0 1 13.23 0)">e</text><text transform="matrix(0.975 0 0 1 25.67 0)">c</text><text transform="matrix(1.298 0 0 1 36.56 0)">t</text><text transform="matrix(0.993 0 0 1 44.82 0)">i</text><text transform="matrix(1.047 0 0 1 50.19 0)">n</text><text transform="matrix(0.873 0 0 1 69.38 0)">a</text><text transform="matrix(1.056 0 0 1 81.51 0)">d</text><text transform="matrix(1.054 0 0 1 94.39 0)">h</text><text transform="matrix(1.049 0 0 1 107.02 0)">e</text><text transform="matrix(0.931 0 0 1 119.76 0)">s</text><text transform="matrix(0.993 0 0 1 130.11 0)">i</text><text transform="matrix(1.033 0 0 1 135.3 0)">o</text><text transform="matrix(1.047 0 0 1 147.73 0)">n</text><text transform="matrix(1.057 0 0 1 166.9 0)">p</text><text transform="matrix(0.873 0 0 1 179.67 0)">a</text><text transform="matrix(1.298 0 0 1 191.75 0)">t</text><text transform="matrix(1.054 0 0 1 199.81 0)">h</text><text transform="matrix(0.982 0 0 1 213.12 0)">w</text><text transform="matrix(0.873 0 0 1 229.07 0)">a</text><text transform="matrix(1.043 0 0 1 241.56 0)">y</text><text transform="matrix(1.047 0 0 1 259.29 0)">-</text><text transform="matrix(1.047 0 0 1 266.54 0)">-</text><text transform="matrix(1.024 0 0 1 280.65 0)">4</text><text transform="matrix(0.978 0 0 1 293.45 0)">1</text><text transform="matrix(0.966 0 0 1 306.29 0)">5</text><text transform="matrix(0.931 0 0 1 325.22 0)">s</text><text transform="matrix(0.873 0 0 1 335.49 0)">a</text><text transform="matrix(1.107 0 0 1 347.74 0)">m</text><text transform="matrix(1.057 0 0 1 367.48 0)">p</text><text transform="matrix(0.993 0 0 1 380.33 0)">l</text><text transform="matrix(1.049 0 0 1 385.51 0)">e</text><text transform="matrix(0.931 0 0 1 398.25 0)">s</text></g>
<g transform="translate(435.8,493.6)" font-size="17.2"><text transform="matrix(0.909 0 0 1 -0.79 0)">C</text><text transform="matrix(1.057 0 0 1 10.83 0)">e</text><text transform="matrix(1.001 0 0 1 21.45 0)">l</text><text transform="matrix(1.001 0 0 1 26.13 0)">l</text><text transform="matrix(1.055 0 0 1 30.62 0)">u</text><text transform="matrix(1.001 0 0 1 41.41 0)">l</text><text transform="matrix(0.880 0 0 1 46.02 0)">a</text><text transform="matrix(1.254 0 0 1 55.98 0)">r</text><text transform="matrix(0.848 0 0 1 68.58 0)">E</text><text transform="matrix(1.055 0 0 1 78.93 0)">n</text><text transform="matrix(1.308 0 0 1 89.33 0)">t</text><text transform="matrix(1.001 0 0 1 96.22 0)">i</text><text transform="matrix(1.308 0 0 1 100.57 0)">t</text><text transform="matrix(1.001 0 0 1 107.46 0)">i</text><text transform="matrix(1.057 0 0 1 111.85 0)">e</text><text transform="matrix(0.938 0 0 1 122.51 0)">s</text></g>
<g transform="translate(11.8,315.4) rotate(-90)" font-size="17.2"><text transform="matrix(1.030 0 0 1 -1.64 0)">I</text><text transform="matrix(1.050 0 0 1 3.58 0)">n</text><text transform="matrix(1.279 0 0 1 13.88 0)">f</text><text transform="matrix(1.052 0 0 1 19.87 0)">e</text><text transform="matrix(1.248 0 0 1 30.11 0)">r</text><text transform="matrix(1.248 0 0 1 36.77 0)">r</text><text transform="matrix(1.052 0 0 1 43.36 0)">e</text><text transform="matrix(1.059 0 0 1 53.67 0)">d</text><text transform="matrix(0.981 0 0 1 69.44 0)">A</text><text transform="matrix(0.977 0 0 1 80.73 0)">c</text><text transform="matrix(1.302 0 0 1 89.81 0)">t</text><text transform="matrix(0.996 0 0 1 96.66 0)">i</text><text transform="matrix(1.051 0 0 1 101.31 0)">v</text><text transform="matrix(0.996 0 0 1 111.24 0)">i</text><text transform="matrix(1.302 0 0 1 115.56 0)">t</text><text transform="matrix(1.046 0 0 1 122.44 0)">y</text></g>
</svg>
</body></html>
